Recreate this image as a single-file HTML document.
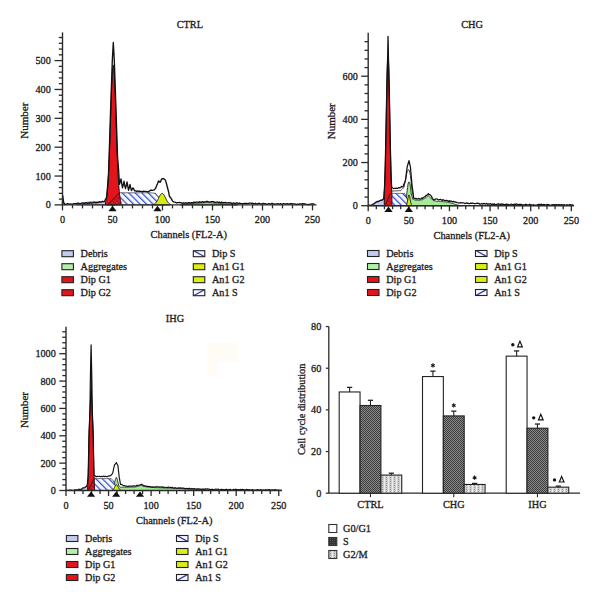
<!DOCTYPE html>
<html><head><meta charset="utf-8"><style>
html,body{margin:0;padding:0;background:#fff;width:600px;height:604px;overflow:hidden}
svg{display:block}
text{font-family:"Liberation Serif", serif}
</style></head><body>
<svg width="600" height="604" viewBox="0 0 600 604" font-family='"Liberation Serif", serif' fill="#1c1c1c">

<defs>
  <pattern id="hatchB" patternUnits="userSpaceOnUse" width="4.6" height="4.6" patternTransform="rotate(-45)">
    <rect width="4.6" height="4.6" fill="#f6f8ff"/><line x1="0.6" y1="0" x2="0.6" y2="4.6" stroke="#3650c8" stroke-width="1.3"/>
  </pattern>
  <pattern id="hatchR" patternUnits="userSpaceOnUse" width="3" height="3" patternTransform="rotate(-45)">
    <line x1="0.6" y1="0" x2="0.6" y2="3" stroke="#a01018" stroke-width="1.1"/>
  </pattern>
  <pattern id="lgB" patternUnits="userSpaceOnUse" width="20" height="20" patternTransform="rotate(-27)">
    <rect width="20" height="20" fill="#fff"/><line x1="0" y1="0" x2="0" y2="20" stroke="#3545b8" stroke-width="1.2"/>
  </pattern>
  <pattern id="lgF" patternUnits="userSpaceOnUse" width="20" height="20" patternTransform="rotate(27)">
    <rect width="20" height="20" fill="#fff"/><line x1="0" y1="0" x2="0" y2="20" stroke="#3545b8" stroke-width="1.2"/>
  </pattern>
  <pattern id="barS" patternUnits="userSpaceOnUse" width="2" height="2">
    <rect width="2" height="2" fill="#8a8a8a"/><rect width="1" height="1" fill="#3c3c3c"/><rect x="1" y="1" width="1" height="1" fill="#3c3c3c"/>
  </pattern>
  <pattern id="barSd" patternUnits="userSpaceOnUse" width="2" height="2">
    <rect width="2" height="2" fill="#333"/><rect width="1" height="1" fill="#555"/>
  </pattern>
  <pattern id="barG2" patternUnits="userSpaceOnUse" width="4" height="4">
    <rect width="4" height="4" fill="#cfcfcf"/><rect width="1" height="4" fill="#ececec"/><rect x="2" y="1" width="1" height="1" fill="#8a8a8a"/><rect x="2" y="3" width="1" height="1" fill="#a0a0a0"/>
  </pattern>
</defs>
<rect width="600" height="604" fill="#fff"/>
<path d="M76.5 204.9 L76.5 204.53 L77 204.47 L77.5 204.4 L78 204.32 L78.5 204.23 L79 204.13 L79.5 204.03 L80 203.92 L80.5 203.81 L81 203.69 L81.5 203.56 L82 203.44 L82.5 203.31 L83 203.19 L83.5 203.06 L84 202.94 L84.5 202.82 L85 202.7 L85.5 202.6 L86 202.49 L86.5 202.4 L87 202.31 L87.5 202.23 L88 202.16 L88.5 202.09 L89 202.03 L89.5 201.98 L90 201.94 L90.5 201.9 L91 201.87 L91.5 201.84 L92 201.82 L92.5 201.8 L93 201.78 L93.5 201.77 L94 201.76 L94.5 201.75 L95 201.75 L95.5 201.74 L96 201.74 L96.5 201.73 L97 201.73 L97.5 201.73 L98 201.73 L98.5 201.73 L99 201.73 L99.5 201.73 L100 201.73 L100.5 201.73 L101 201.73 L101.5 201.73 L102 201.73 L102.5 201.73 L103 201.73 L103.5 201.73 L104 201.73 L104.5 201.75 L105 201.76 L105.5 201.8 L106 201.85 L106.5 201.94 L107 202.06 L107.5 202.23 L108 202.44 L108.5 202.7 L109 203 L109.5 203.31 L110 203.63 L110.5 203.92 L111 204.18 L111.5 204.4 L112 204.56 L112.5 204.69 L113 204.77 L113.5 204.83 L114 204.86 L114.5 204.88 L114.5 204.9 Z" fill="#c3cbf0" stroke="#334" stroke-width="0.6"/>
<path d="M180.5 204.9 L180.5 204.9 L181 204.84 L181.5 204.78 L182 204.71 L182.5 204.65 L183 204.59 L183.5 204.53 L184 204.47 L184.5 204.41 L185 204.34 L185.5 204.28 L186 204.22 L186.5 204.16 L187 204.1 L187.5 204.03 L188 203.99 L188.5 203.95 L189 203.9 L189.5 203.86 L190 203.82 L190.5 203.77 L191 203.73 L191.5 203.69 L192 203.64 L192.5 203.6 L193 203.56 L193.5 203.51 L194 203.47 L194.5 203.43 L195 203.38 L195.5 203.34 L196 203.3 L196.5 203.25 L197 203.21 L197.5 203.17 L198 203.14 L198.5 203.11 L199 203.08 L199.5 203.05 L200 203.02 L200.5 203 L201 202.97 L201.5 202.94 L202 202.91 L202.5 202.88 L203 202.85 L203.5 202.82 L204 202.79 L204.5 202.76 L205 202.74 L205.5 202.71 L206 202.68 L206.5 202.65 L207 202.62 L207.5 202.59 L208 202.62 L208.5 202.65 L209 202.68 L209.5 202.71 L210 202.74 L210.5 202.76 L211 202.79 L211.5 202.82 L212 202.85 L212.5 202.88 L213 202.91 L213.5 202.94 L214 202.97 L214.5 203 L215 203.02 L215.5 203.05 L216 203.08 L216.5 203.11 L217 203.14 L217.5 203.17 L218 203.21 L218.5 203.25 L219 203.3 L219.5 203.34 L220 203.38 L220.5 203.43 L221 203.47 L221.5 203.51 L222 203.56 L222.5 203.6 L223 203.64 L223.5 203.69 L224 203.73 L224.5 203.77 L225 203.82 L225.5 203.86 L226 203.9 L226.5 203.95 L227 203.99 L227.5 204.03 L228 204.08 L228.5 204.12 L229 204.16 L229.5 204.21 L230 204.25 L230.5 204.29 L231 204.34 L231.5 204.38 L232 204.42 L232.5 204.47 L233 204.51 L233.5 204.55 L234 204.6 L234.5 204.64 L235 204.68 L235.5 204.73 L236 204.77 L236.5 204.81 L237 204.86 L237.5 204.9 L237.5 204.9 Z" fill="#a6ea98" stroke="#1a2a1a" stroke-width="0.9"/>
<path d="M107.5 204.9 L107.5 204.9 L108 204.39 L108.5 203.89 L109 203.38 L109.5 202.88 L110 202.37 L110.5 201.87 L111 201.36 L111.5 200.86 L112 200.35 L112.5 199.85 L113 199.34 L113.5 198.84 L114 198.33 L114.5 197.83 L115 197.32 L115.5 196.82 L116 196.31 L116.5 195.81 L117 195.3 L117.5 194.8 L118 194.29 L118.5 193.79 L119 193.28 L119.5 192.78 L120 192.78 L120.5 192.78 L121 192.78 L121.5 192.78 L122 192.78 L122.5 192.78 L123 192.78 L123.5 192.78 L124 192.78 L124.5 192.78 L125 192.78 L125.5 192.78 L126 192.78 L126.5 192.78 L127 192.78 L127.5 192.78 L128 192.78 L128.5 192.78 L129 192.78 L129.5 192.78 L130 192.78 L130.5 192.78 L131 192.78 L131.5 192.78 L132 192.78 L132.5 192.78 L133 192.78 L133.5 192.78 L134 192.78 L134.5 192.78 L135 192.78 L135.5 192.78 L136 192.78 L136.5 192.78 L137 192.78 L137.5 192.78 L138 192.78 L138.5 192.78 L139 192.78 L139.5 192.78 L140 192.78 L140.5 192.78 L141 192.78 L141.5 192.78 L142 192.78 L142.5 192.78 L143 192.78 L143.5 192.78 L144 192.78 L144.5 192.78 L145 192.78 L145.5 192.78 L146 192.78 L146.5 192.78 L147 192.78 L147.5 192.78 L148 192.78 L148.5 192.78 L149 192.78 L149.5 192.78 L150 192.78 L150.5 192.78 L151 192.84 L151.5 192.89 L152 192.95 L152.5 193.01 L153 193.07 L153.5 193.13 L154 193.18 L154.5 193.24 L155 193.3 L155.5 193.36 L156 193.93 L156.5 194.51 L157 195.09 L157.5 195.66 L158 196.24 L158.5 196.82 L159 197.4 L159.5 197.97 L160 198.55 L160.5 199.13 L161 199.71 L161.5 200.28 L162 200.86 L162.5 201.44 L163 201.87 L163.5 202.3 L164 202.74 L164.5 203.17 L165 203.6 L165.5 204.03 L166 204.47 L166.5 204.9 L166.5 204.9 Z" fill="url(#hatchB)" stroke="#223" stroke-width="0.7"/>
<path d="M153.5 204.9 L153.5 204.43 L154 204.22 L154.5 203.95 L155 203.6 L155.5 203.15 L156 202.59 L156.5 201.93 L157 201.15 L157.5 200.28 L158 199.32 L158.5 198.31 L159 197.28 L159.5 196.28 L160 195.36 L160.5 194.57 L161 193.94 L161.5 193.53 L162 193.36 L162.5 193.44 L163 193.75 L163.5 194.29 L164 195.02 L164.5 195.9 L165 196.88 L165.5 197.9 L166 198.92 L166.5 199.9 L167 200.81 L167.5 201.63 L168 202.34 L168.5 202.94 L169 203.43 L169.5 203.82 L170 204.12 L170.5 204.35 L170.5 204.9 Z" fill="#d4ec10" stroke="#1a1a1a" stroke-width="0.9"/>
<path d="M105.5 204.9 L105.5 202.39 L105.75 201.67 L106 200.77 L106.25 199.67 L106.5 198.32 L106.75 196.69 L107 194.75 L107.25 192.45 L107.5 189.76 L107.75 186.64 L108 183.05 L108.25 178.97 L108.5 174.39 L108.75 169.29 L109 163.68 L109.25 157.58 L109.5 151.02 L109.75 144.06 L110 136.77 L110.25 129.23 L110.5 121.55 L110.75 113.84 L111 106.24 L111.25 98.88 L111.5 91.92 L111.75 85.49 L112 79.73 L112.25 74.77 L112.5 70.73 L112.75 67.7 L113 65.76 L113.25 64.95 L113.5 65.3 L113.75 66.79 L114 69.39 L114.25 73.04 L114.5 77.64 L114.75 83.09 L115 89.27 L115.25 96.04 L115.5 103.26 L115.75 110.78 L116 118.46 L116.25 126.17 L116.5 133.78 L116.75 141.18 L117 148.28 L117.25 155.01 L117.5 161.3 L117.75 167.1 L118 172.41 L118.25 177.2 L118.5 181.48 L118.75 185.26 L119 188.56 L119.25 191.43 L119.5 193.88 L119.75 195.96 L120 197.7 L120.25 199.16 L120.5 200.36 L120.75 201.33 L121 202.12 L121 204.9 Z" fill="#e3141c" stroke="#111" stroke-width="1.0"/>
<clipPath id="clip1"><path d="M105.5 204.9 L105.5 202.39 L105.75 201.67 L106 200.77 L106.25 199.67 L106.5 198.32 L106.75 196.69 L107 194.75 L107.25 192.45 L107.5 189.76 L107.75 186.64 L108 183.05 L108.25 178.97 L108.5 174.39 L108.75 169.29 L109 163.68 L109.25 157.58 L109.5 151.02 L109.75 144.06 L110 136.77 L110.25 129.23 L110.5 121.55 L110.75 113.84 L111 106.24 L111.25 98.88 L111.5 91.92 L111.75 85.49 L112 79.73 L112.25 74.77 L112.5 70.73 L112.75 67.7 L113 65.76 L113.25 64.95 L113.5 65.3 L113.75 66.79 L114 69.39 L114.25 73.04 L114.5 77.64 L114.75 83.09 L115 89.27 L115.25 96.04 L115.5 103.26 L115.75 110.78 L116 118.46 L116.25 126.17 L116.5 133.78 L116.75 141.18 L117 148.28 L117.25 155.01 L117.5 161.3 L117.75 167.1 L118 172.41 L118.25 177.2 L118.5 181.48 L118.75 185.26 L119 188.56 L119.25 191.43 L119.5 193.88 L119.75 195.96 L120 197.7 L120.25 199.16 L120.5 200.36 L120.75 201.33 L121 202.12 L121 204.9 Z"/></clipPath>
<path d="M107.5 204.9 L107.5 204.9 L108 204.39 L108.5 203.89 L109 203.38 L109.5 202.88 L110 202.37 L110.5 201.87 L111 201.36 L111.5 200.86 L112 200.35 L112.5 199.85 L113 199.34 L113.5 198.84 L114 198.33 L114.5 197.83 L115 197.32 L115.5 196.82 L116 196.31 L116.5 195.81 L117 195.3 L117.5 194.8 L118 194.29 L118.5 193.79 L119 193.28 L119.5 192.78 L120 192.78 L120.5 192.78 L121 192.78 L121.5 192.78 L122 192.78 L122.5 192.78 L123 192.78 L123.5 192.78 L124 192.78 L124.5 192.78 L125 192.78 L125.5 192.78 L126 192.78 L126.5 192.78 L127 192.78 L127.5 192.78 L128 192.78 L128.5 192.78 L129 192.78 L129.5 192.78 L130 192.78 L130.5 192.78 L131 192.78 L131.5 192.78 L132 192.78 L132.5 192.78 L133 192.78 L133.5 192.78 L134 192.78 L134.5 192.78 L135 192.78 L135.5 192.78 L136 192.78 L136.5 192.78 L137 192.78 L137.5 192.78 L138 192.78 L138.5 192.78 L139 192.78 L139.5 192.78 L140 192.78 L140.5 192.78 L141 192.78 L141.5 192.78 L142 192.78 L142.5 192.78 L143 192.78 L143.5 192.78 L144 192.78 L144.5 192.78 L145 192.78 L145.5 192.78 L146 192.78 L146.5 192.78 L147 192.78 L147.5 192.78 L148 192.78 L148.5 192.78 L149 192.78 L149.5 192.78 L150 192.78 L150.5 192.78 L151 192.84 L151.5 192.89 L152 192.95 L152.5 193.01 L153 193.07 L153.5 193.13 L154 193.18 L154.5 193.24 L155 193.3 L155.5 193.36 L156 193.93 L156.5 194.51 L157 195.09 L157.5 195.66 L158 196.24 L158.5 196.82 L159 197.4 L159.5 197.97 L160 198.55 L160.5 199.13 L161 199.71 L161.5 200.28 L162 200.86 L162.5 201.44 L163 201.87 L163.5 202.3 L164 202.74 L164.5 203.17 L165 203.6 L165.5 204.03 L166 204.47 L166.5 204.9 L166.5 204.9 Z" fill="url(#hatchR)" stroke="#3a0a0a" stroke-width="1.0" clip-path="url(#clip1)"/>
<path d="M62.5 204.9 L62.7 195.56 L63.5 201.26 L63.7 202.88 L64.5 203.54 L65 204.7 L65.5 204.66 L66.5 204.03 L67.5 203.69 L68.5 203.91 L69.5 204.29 L70.5 203.87 L71.5 204.11 L72.5 204.18 L73.5 203.76 L74.5 203.65 L75.5 203.63 L76.5 203.63 L77.5 203.09 L78.5 203.2 L79.5 203.65 L80.5 203.63 L81.5 203.15 L82.5 203.04 L83.5 202.9 L84.5 203.75 L85.5 202.87 L86.5 202.76 L87.5 203.56 L88.5 202.82 L89.5 203.37 L90.5 202.47 L91.5 203.17 L92.5 203.09 L93.5 202.36 L94.5 202.49 L95.5 202.74 L96.5 202.71 L97.5 202.63 L98.5 202.46 L99.5 201.67 L100.5 202.19 L101.5 202.06 L102.5 201.25 L103.5 201.73 L104.5 201.41 L105.5 199.16 L106.5 197.87 L107.5 187.24 L108.5 174.01 L109.5 144.34 L110.5 112.55 L111.5 83.69 L112.3 60.6 L112.5 56.96 L113.3 42.42 L113.5 46.05 L114.3 60.6 L114.5 66.37 L115.5 95.23 L116 109.66 L116.5 125.05 L117.5 156.02 L118.5 168.74 L119.5 184.42 L120.5 181.06 L121 178.87 L121.5 181.9 L122.5 187.78 L123.5 183.99 L124 181.28 L124.5 184.03 L125.5 188.67 L126.5 184.63 L127 181.95 L127.5 184.71 L128.5 190.22 L129.5 186.87 L130 184.51 L130.5 187.06 L131.5 190.49 L132.5 188.71 L133 187.98 L133.5 188.52 L134.5 190.83 L135.5 190.87 L136.5 191.38 L137.5 190.97 L138.5 191.45 L139.5 191.08 L140.5 191.34 L141.5 191.42 L142.5 191.93 L143.5 191.13 L144.5 191.41 L145.5 191.34 L146.5 191.54 L147.5 191.79 L148.5 191.77 L149.5 190.92 L150.5 190.29 L151.5 190.17 L152.5 190.31 L153.5 190.08 L154.5 189.59 L155.5 188.36 L156.5 186.1 L157 184.86 L157.5 183.82 L158.5 180.95 L159.5 181.65 L160 182.31 L160.5 181.76 L161.5 179.19 L162.5 178.73 L163.5 178.55 L164.5 179.26 L165.5 180.34 L166.5 183.72 L167.5 187.75 L168.5 191.47 L169.5 196.63 L170.5 197.44 L171.5 199.13 L172.5 201.04 L173.5 201.88 L174.5 202.06 L175.5 202.29 L176.5 202.97 L177.5 202.57 L178.5 202.62 L179.5 202.5 L180.5 202.66 L181.5 202.9 L182.5 203.38 L183.5 202.78 L184.5 203.23 L185.5 202.89 L186.5 203.01 L187.5 203.27 L188.5 202.71 L189.5 202.6 L190.5 203.25 L191.5 202.71 L192.5 202.85 L193.5 202.3 L194.5 202.15 L195.5 202.34 L196.5 202.18 L197.5 202.17 L198.5 202.51 L199.5 201.74 L200.5 202.1 L201.5 202.24 L202.5 201.69 L203.5 202.34 L204.5 201.85 L205.5 201.85 L206.5 201.5 L207.5 201.45 L208.5 201.94 L209.5 202.17 L210.5 201.88 L211.5 201.64 L212.5 201.6 L213.5 201.66 L214.5 202.39 L215.5 202.38 L216.5 202.12 L217.5 201.99 L218.5 202.53 L219.5 202.1 L220.5 202.75 L221.5 202.1 L222.5 202.52 L223.5 202.62 L224.5 202.61 L225.5 202.33 L226.5 202.91 L227.5 202.82 L228.5 202.76 L229.5 202.96 L230.5 202.63 L231.5 203.32 L232.5 203.51 L233.5 202.9 L234.5 203.23 L235.5 203.51 L236.5 202.85 L237.5 203.01 L238.5 203.57 L239.5 203.13 L240.5 203.46 L241.5 203.71 L242.5 203.71 L243.5 203.61 L244.5 203.37 L245.5 203.53 L246.5 203.41 L247.5 203.73 L248.5 203.35 L249.5 203.17 L250.5 203.19 L251.5 203.31 L252.5 203.18 L253.5 203.74 L254.5 203.85 L255.5 203.25 L256.5 203.87 L257.5 203.87 L258.5 203.36 L259.5 203.42 L260.5 203.8 L261.5 204.17 L262.5 203.58 L263.5 203.32 L264.5 203.76 L265.5 203.78 L266.5 204.08 L267.5 204.16 L268.5 203.76 L269.5 203.76 L270.5 204.13 L271.5 203.53 L272.5 203.46 L273.5 204.27 L274.5 203.91 L275.5 204.05 L276.5 203.89 L277.5 203.82 L278.5 203.74 L279.5 204.23 L280.5 203.72 L281.5 204.24 L282.5 203.96 L283.5 203.62 L284.5 203.8 L285.5 203.88 L286.5 203.92 L287.5 203.58 L288.5 204.26 L289.5 203.82 L290.5 203.77 L291.5 203.7 L292.5 203.9 L293.5 203.84 L294.5 203.9 L295.5 204.26 L296.5 204.57 L297.5 204.01 L298.5 204.39 L299.5 204 L300.5 204.02 L301.5 204.15 L302.5 203.73 L303.5 204.01 L304.5 203.77 L305.5 204.12 L306.5 204.46 L307.5 204.66 L308.5 204.37 L309.5 204.5 L310.5 204.23 L311.5 203.86 L312.5 203.84 L313.5 204.03 L314.5 204.23" fill="none" stroke="#111" stroke-width="1.35" stroke-linejoin="round"/>
<line x1="62.5" y1="32.4" x2="62.5" y2="205.5" stroke="#2a2a2a" stroke-width="1.4"/>
<line x1="61.9" y1="204.9" x2="316.5" y2="204.9" stroke="#2a2a2a" stroke-width="1.4"/>
<line x1="54.5" y1="204.9" x2="62.5" y2="204.9" stroke="#2a2a2a" stroke-width="1.3"/>
<text transform="translate(50.8 208.4) scale(1 1.08)" text-anchor="end" font-size="10.2" stroke="#1c1c1c" stroke-width="0.3">0</text>
<line x1="58.8" y1="199.13" x2="62.5" y2="199.13" stroke="#2a2a2a" stroke-width="1.3"/>
<line x1="58.8" y1="193.36" x2="62.5" y2="193.36" stroke="#2a2a2a" stroke-width="1.3"/>
<line x1="58.8" y1="187.58" x2="62.5" y2="187.58" stroke="#2a2a2a" stroke-width="1.3"/>
<line x1="58.8" y1="181.81" x2="62.5" y2="181.81" stroke="#2a2a2a" stroke-width="1.3"/>
<line x1="54.5" y1="176.04" x2="62.5" y2="176.04" stroke="#2a2a2a" stroke-width="1.3"/>
<text transform="translate(50.8 179.54) scale(1 1.08)" text-anchor="end" font-size="10.2" stroke="#1c1c1c" stroke-width="0.3">100</text>
<line x1="58.8" y1="170.27" x2="62.5" y2="170.27" stroke="#2a2a2a" stroke-width="1.3"/>
<line x1="58.8" y1="164.5" x2="62.5" y2="164.5" stroke="#2a2a2a" stroke-width="1.3"/>
<line x1="58.8" y1="158.72" x2="62.5" y2="158.72" stroke="#2a2a2a" stroke-width="1.3"/>
<line x1="58.8" y1="152.95" x2="62.5" y2="152.95" stroke="#2a2a2a" stroke-width="1.3"/>
<line x1="54.5" y1="147.18" x2="62.5" y2="147.18" stroke="#2a2a2a" stroke-width="1.3"/>
<text transform="translate(50.8 150.68) scale(1 1.08)" text-anchor="end" font-size="10.2" stroke="#1c1c1c" stroke-width="0.3">200</text>
<line x1="58.8" y1="141.41" x2="62.5" y2="141.41" stroke="#2a2a2a" stroke-width="1.3"/>
<line x1="58.8" y1="135.64" x2="62.5" y2="135.64" stroke="#2a2a2a" stroke-width="1.3"/>
<line x1="58.8" y1="129.86" x2="62.5" y2="129.86" stroke="#2a2a2a" stroke-width="1.3"/>
<line x1="58.8" y1="124.09" x2="62.5" y2="124.09" stroke="#2a2a2a" stroke-width="1.3"/>
<line x1="54.5" y1="118.32" x2="62.5" y2="118.32" stroke="#2a2a2a" stroke-width="1.3"/>
<text transform="translate(50.8 121.82) scale(1 1.08)" text-anchor="end" font-size="10.2" stroke="#1c1c1c" stroke-width="0.3">300</text>
<line x1="58.8" y1="112.55" x2="62.5" y2="112.55" stroke="#2a2a2a" stroke-width="1.3"/>
<line x1="58.8" y1="106.78" x2="62.5" y2="106.78" stroke="#2a2a2a" stroke-width="1.3"/>
<line x1="58.8" y1="101" x2="62.5" y2="101" stroke="#2a2a2a" stroke-width="1.3"/>
<line x1="58.8" y1="95.23" x2="62.5" y2="95.23" stroke="#2a2a2a" stroke-width="1.3"/>
<line x1="54.5" y1="89.46" x2="62.5" y2="89.46" stroke="#2a2a2a" stroke-width="1.3"/>
<text transform="translate(50.8 92.96) scale(1 1.08)" text-anchor="end" font-size="10.2" stroke="#1c1c1c" stroke-width="0.3">400</text>
<line x1="58.8" y1="83.69" x2="62.5" y2="83.69" stroke="#2a2a2a" stroke-width="1.3"/>
<line x1="58.8" y1="77.92" x2="62.5" y2="77.92" stroke="#2a2a2a" stroke-width="1.3"/>
<line x1="58.8" y1="72.14" x2="62.5" y2="72.14" stroke="#2a2a2a" stroke-width="1.3"/>
<line x1="58.8" y1="66.37" x2="62.5" y2="66.37" stroke="#2a2a2a" stroke-width="1.3"/>
<line x1="54.5" y1="60.6" x2="62.5" y2="60.6" stroke="#2a2a2a" stroke-width="1.3"/>
<text transform="translate(50.8 64.1) scale(1 1.08)" text-anchor="end" font-size="10.2" stroke="#1c1c1c" stroke-width="0.3">500</text>
<line x1="58.8" y1="54.83" x2="62.5" y2="54.83" stroke="#2a2a2a" stroke-width="1.3"/>
<line x1="58.8" y1="49.06" x2="62.5" y2="49.06" stroke="#2a2a2a" stroke-width="1.3"/>
<line x1="58.8" y1="43.28" x2="62.5" y2="43.28" stroke="#2a2a2a" stroke-width="1.3"/>
<line x1="58.8" y1="37.51" x2="62.5" y2="37.51" stroke="#2a2a2a" stroke-width="1.3"/>
<line x1="62.5" y1="204.9" x2="62.5" y2="210.4" stroke="#2a2a2a" stroke-width="1.3"/>
<text transform="translate(62.5 223.1) scale(1 1.08)" text-anchor="middle" font-size="10.2" stroke="#1c1c1c" stroke-width="0.3">0</text>
<line x1="72.5" y1="204.9" x2="72.5" y2="208.4" stroke="#2a2a2a" stroke-width="1.3"/>
<line x1="82.5" y1="204.9" x2="82.5" y2="208.4" stroke="#2a2a2a" stroke-width="1.3"/>
<line x1="92.5" y1="204.9" x2="92.5" y2="208.4" stroke="#2a2a2a" stroke-width="1.3"/>
<line x1="102.5" y1="204.9" x2="102.5" y2="208.4" stroke="#2a2a2a" stroke-width="1.3"/>
<line x1="112.5" y1="204.9" x2="112.5" y2="210.4" stroke="#2a2a2a" stroke-width="1.3"/>
<text transform="translate(112.5 223.1) scale(1 1.08)" text-anchor="middle" font-size="10.2" stroke="#1c1c1c" stroke-width="0.3">50</text>
<line x1="122.5" y1="204.9" x2="122.5" y2="208.4" stroke="#2a2a2a" stroke-width="1.3"/>
<line x1="132.5" y1="204.9" x2="132.5" y2="208.4" stroke="#2a2a2a" stroke-width="1.3"/>
<line x1="142.5" y1="204.9" x2="142.5" y2="208.4" stroke="#2a2a2a" stroke-width="1.3"/>
<line x1="152.5" y1="204.9" x2="152.5" y2="208.4" stroke="#2a2a2a" stroke-width="1.3"/>
<line x1="162.5" y1="204.9" x2="162.5" y2="210.4" stroke="#2a2a2a" stroke-width="1.3"/>
<text transform="translate(162.5 223.1) scale(1 1.08)" text-anchor="middle" font-size="10.2" stroke="#1c1c1c" stroke-width="0.3">100</text>
<line x1="172.5" y1="204.9" x2="172.5" y2="208.4" stroke="#2a2a2a" stroke-width="1.3"/>
<line x1="182.5" y1="204.9" x2="182.5" y2="208.4" stroke="#2a2a2a" stroke-width="1.3"/>
<line x1="192.5" y1="204.9" x2="192.5" y2="208.4" stroke="#2a2a2a" stroke-width="1.3"/>
<line x1="202.5" y1="204.9" x2="202.5" y2="208.4" stroke="#2a2a2a" stroke-width="1.3"/>
<line x1="212.5" y1="204.9" x2="212.5" y2="210.4" stroke="#2a2a2a" stroke-width="1.3"/>
<text transform="translate(212.5 223.1) scale(1 1.08)" text-anchor="middle" font-size="10.2" stroke="#1c1c1c" stroke-width="0.3">150</text>
<line x1="222.5" y1="204.9" x2="222.5" y2="208.4" stroke="#2a2a2a" stroke-width="1.3"/>
<line x1="232.5" y1="204.9" x2="232.5" y2="208.4" stroke="#2a2a2a" stroke-width="1.3"/>
<line x1="242.5" y1="204.9" x2="242.5" y2="208.4" stroke="#2a2a2a" stroke-width="1.3"/>
<line x1="252.5" y1="204.9" x2="252.5" y2="208.4" stroke="#2a2a2a" stroke-width="1.3"/>
<line x1="262.5" y1="204.9" x2="262.5" y2="210.4" stroke="#2a2a2a" stroke-width="1.3"/>
<text transform="translate(262.5 223.1) scale(1 1.08)" text-anchor="middle" font-size="10.2" stroke="#1c1c1c" stroke-width="0.3">200</text>
<line x1="272.5" y1="204.9" x2="272.5" y2="208.4" stroke="#2a2a2a" stroke-width="1.3"/>
<line x1="282.5" y1="204.9" x2="282.5" y2="208.4" stroke="#2a2a2a" stroke-width="1.3"/>
<line x1="292.5" y1="204.9" x2="292.5" y2="208.4" stroke="#2a2a2a" stroke-width="1.3"/>
<line x1="302.5" y1="204.9" x2="302.5" y2="208.4" stroke="#2a2a2a" stroke-width="1.3"/>
<line x1="312.5" y1="204.9" x2="312.5" y2="210.4" stroke="#2a2a2a" stroke-width="1.3"/>
<text transform="translate(312.5 223.1) scale(1 1.08)" text-anchor="middle" font-size="10.2" stroke="#1c1c1c" stroke-width="0.3">250</text>
<text transform="translate(189.8 27.6) scale(1 1.08)" text-anchor="middle" font-size="10.3" stroke="#1c1c1c" stroke-width="0.3">CTRL</text>
<text transform="translate(188.8 238.2) scale(1 1.08)" text-anchor="middle" font-size="10.4" stroke="#1c1c1c" stroke-width="0.3">Channels (FL2-A)</text>
<text transform="translate(28.2 120.7) rotate(-90)" text-anchor="middle" font-size="11" stroke="#1c1c1c" stroke-width="0.3">Number</text>
<path d="M108.4 211.2 L112.5 205.8 L116.6 211.2 Z" fill="#111"/>
<path d="M153.4 211.2 L157.5 205.8 L161.6 211.2 Z" fill="#111"/>
<path d="M370.64 205.7 L370.64 205.7 L371.04 205.56 L371.45 205.41 L371.86 205.27 L372.26 205.12 L372.67 204.98 L373.07 204.84 L373.48 204.55 L373.89 204.26 L374.29 203.97 L374.7 203.69 L375.11 203.4 L375.51 203.11 L375.92 202.84 L376.32 202.57 L376.73 202.3 L377.14 202.03 L377.54 201.76 L377.95 201.49 L378.36 201.22 L378.76 200.95 L379.17 200.82 L379.57 200.68 L379.98 200.55 L380.39 200.41 L380.79 200.28 L381.2 200.14 L381.61 200.01 L382.01 199.87 L382.42 199.69 L382.82 199.51 L383.23 199.33 L383.64 199.15 L384.04 198.97 L384.45 198.79 L384.86 198.87 L385.26 198.94 L385.67 199.01 L386.07 199.08 L386.48 199.15 L386.89 199.23 L387.29 200.84 L387.7 202.46 L388.11 204.08 L388.51 205.7 L388.51 205.7 Z" fill="#c3cbf0" stroke="#334" stroke-width="0.6"/>
<path d="M403.14 205.7 L403.14 205.7 L403.54 205.16 L403.95 204.62 L404.36 204.08 L404.76 203.54 L405.17 201.92 L405.57 200.3 L405.98 198.69 L406.39 197.07 L406.79 193.83 L407.2 190.59 L407.61 187.36 L408.01 184.12 L408.42 183.04 L408.82 181.96 L409.23 182.13 L409.64 183.12 L410.04 184.12 L410.45 187.36 L410.86 190.59 L411.26 193.83 L411.67 195.18 L412.07 196.53 L412.48 197.88 L412.89 199.23 L413.29 199.37 L413.7 199.51 L414.11 199.66 L414.51 199.8 L414.92 199.95 L415.32 200.09 L415.73 200.11 L416.14 200.13 L416.54 200.15 L416.95 200.18 L417.36 200.2 L417.76 200.22 L418.17 200.24 L418.57 200.26 L418.98 200.28 L419.39 200.3 L419.79 200.22 L420.2 200.14 L420.61 200.06 L421.01 199.98 L421.42 199.9 L421.82 199.82 L422.23 199.74 L422.64 199.66 L423.04 199.39 L423.45 199.12 L423.86 198.85 L424.26 198.58 L424.67 198.31 L425.07 198.04 L425.48 197.77 L425.89 197.5 L426.29 197.21 L426.7 196.92 L427.11 196.64 L427.51 196.35 L427.92 196.06 L428.32 195.77 L428.73 196.13 L429.14 196.49 L429.54 196.85 L429.95 197.21 L430.36 197.57 L430.76 197.93 L431.17 198.36 L431.57 198.79 L431.98 199.23 L432.39 199.66 L432.79 200.09 L433.2 200.52 L433.61 200.61 L434.01 200.69 L434.42 200.78 L434.82 200.87 L435.23 200.95 L435.64 201.04 L436.04 201.13 L436.45 201.21 L436.86 201.3 L437.26 201.38 L437.67 201.41 L438.07 201.43 L438.48 201.45 L438.89 201.47 L439.29 201.49 L439.7 201.51 L440.11 201.54 L440.51 201.56 L440.92 201.58 L441.32 201.6 L441.73 201.62 L442.14 201.64 L442.54 201.66 L442.95 201.69 L443.36 201.71 L443.76 201.73 L444.17 201.75 L444.57 201.77 L444.98 201.79 L445.39 201.82 L445.79 201.9 L446.2 201.99 L446.61 202.07 L447.01 202.16 L447.42 202.25 L447.82 202.33 L448.23 202.42 L448.64 202.51 L449.04 202.59 L449.45 202.68 L449.86 202.79 L450.26 202.89 L450.67 203 L451.07 203.11 L451.48 203.22 L451.89 203.33 L452.29 203.43 L452.7 203.54 L453.11 203.65 L453.51 203.76 L453.92 203.87 L454.32 203.97 L454.73 204.11 L455.14 204.24 L455.54 204.38 L455.95 204.51 L456.36 204.65 L456.76 204.78 L457.17 204.92 L457.57 205.05 L457.98 205.12 L458.39 205.18 L458.79 205.25 L459.2 205.31 L459.61 205.38 L460.01 205.44 L460.42 205.51 L460.82 205.57 L461.23 205.64 L461.64 205.7 L461.64 205.7 Z" fill="#a6ea98" stroke="#1a2a1a" stroke-width="0.9"/>
<path d="M385.26 205.7 L385.26 205.7 L385.67 204.67 L386.07 203.65 L386.48 202.62 L386.89 201.6 L387.29 200.57 L387.7 199.55 L388.11 198.52 L388.51 197.5 L388.92 196.47 L389.32 195.45 L389.73 194.42 L390.14 193.4 L390.54 193.4 L390.95 193.4 L391.36 193.4 L391.76 193.4 L392.17 193.4 L392.57 193.4 L392.98 193.4 L393.39 193.4 L393.79 193.4 L394.2 193.4 L394.61 193.4 L395.01 193.4 L395.42 193.4 L395.82 193.4 L396.23 193.4 L396.64 193.4 L397.04 193.4 L397.45 193.4 L397.86 193.4 L398.26 193.4 L398.67 193.4 L399.07 193.4 L399.48 193.4 L399.89 193.4 L400.29 193.4 L400.7 193.4 L401.11 193.4 L401.51 193.4 L401.92 193.4 L402.32 193.4 L402.73 193.4 L403.14 193.4 L403.54 193.4 L403.95 193.4 L404.36 193.4 L404.76 193.4 L405.17 194.37 L405.57 195.34 L405.98 196.31 L406.39 197.28 L406.79 198.25 L407.2 199.23 L407.61 200.84 L408.01 202.46 L408.42 204.08 L408.82 205.7 L408.82 205.7 Z" fill="url(#hatchB)" stroke="#223" stroke-width="0.7"/>
<path d="M406.79 205.7 L406.79 204.02 L407.2 202.56 L407.61 200.54 L408.01 198.23 L408.42 196.18 L408.82 195.02 L409.23 195.15 L409.64 196.54 L410.04 198.69 L410.45 200.98 L410.86 202.9 L411.26 204.24 L411.26 205.7 Z" fill="#d4ec10" stroke="#1a1a1a" stroke-width="0.9"/>
<path d="M386.48 205.7 L386.48 104.83 L386.56 100.51 L386.64 96.25 L386.72 92.08 L386.81 88.02 L386.89 84.08 L386.97 80.3 L387.05 76.7 L387.13 73.29 L387.21 70.1 L387.29 67.15 L387.38 64.45 L387.46 62.03 L387.54 59.89 L387.62 58.06 L387.7 55.72 L387.78 50.86 L387.86 46.01 L387.94 41.15 L388.03 36.3 L388.11 41.15 L388.19 46.01 L388.27 50.86 L388.35 55.72 L388.43 58.06 L388.51 59.89 L388.59 62.03 L388.68 64.45 L388.76 67.15 L388.84 70.1 L388.92 73.29 L389 76.7 L389.08 80.3 L389.16 84.08 L389.24 88.02 L389.33 92.08 L389.41 96.25 L389.49 100.51 L389.57 104.83 L389.57 205.7 Z" fill="#141414"/>
<path d="M384.29 205.7 L384.29 192.18 L384.49 188.28 L384.69 183.56 L384.9 177.96 L385.1 171.44 L385.3 163.98 L385.51 155.62 L385.71 146.41 L385.91 136.51 L386.12 126.09 L386.32 115.39 L386.52 104.69 L386.72 94.31 L386.93 84.6 L387.13 75.89 L387.33 68.51 L387.54 62.75 L387.74 58.85 L387.94 56.97 L388.15 57.18 L388.35 59.47 L388.55 63.76 L388.76 69.86 L388.96 77.53 L389.16 86.47 L389.37 96.34 L389.57 106.81 L389.77 117.54 L389.97 128.2 L390.18 138.54 L390.38 148.32 L390.58 157.36 L390.79 165.55 L390.99 172.82 L391.19 179.16 L391.4 184.57 L391.6 189.12 L391.8 192.87 L391.93 205.7 Z" fill="#e3141c" stroke="#111" stroke-width="1.0"/>
<clipPath id="clip2"><path d="M384.29 205.7 L384.29 192.18 L384.49 188.28 L384.69 183.56 L384.9 177.96 L385.1 171.44 L385.3 163.98 L385.51 155.62 L385.71 146.41 L385.91 136.51 L386.12 126.09 L386.32 115.39 L386.52 104.69 L386.72 94.31 L386.93 84.6 L387.13 75.89 L387.33 68.51 L387.54 62.75 L387.74 58.85 L387.94 56.97 L388.15 57.18 L388.35 59.47 L388.55 63.76 L388.76 69.86 L388.96 77.53 L389.16 86.47 L389.37 96.34 L389.57 106.81 L389.77 117.54 L389.97 128.2 L390.18 138.54 L390.38 148.32 L390.58 157.36 L390.79 165.55 L390.99 172.82 L391.19 179.16 L391.4 184.57 L391.6 189.12 L391.8 192.87 L391.93 205.7 Z"/></clipPath>
<path d="M385.26 205.7 L385.26 205.7 L385.67 204.67 L386.07 203.65 L386.48 202.62 L386.89 201.6 L387.29 200.57 L387.7 199.55 L388.11 198.52 L388.51 197.5 L388.92 196.47 L389.32 195.45 L389.73 194.42 L390.14 193.4 L390.54 193.4 L390.95 193.4 L391.36 193.4 L391.76 193.4 L392.17 193.4 L392.57 193.4 L392.98 193.4 L393.39 193.4 L393.79 193.4 L394.2 193.4 L394.61 193.4 L395.01 193.4 L395.42 193.4 L395.82 193.4 L396.23 193.4 L396.64 193.4 L397.04 193.4 L397.45 193.4 L397.86 193.4 L398.26 193.4 L398.67 193.4 L399.07 193.4 L399.48 193.4 L399.89 193.4 L400.29 193.4 L400.7 193.4 L401.11 193.4 L401.51 193.4 L401.92 193.4 L402.32 193.4 L402.73 193.4 L403.14 193.4 L403.54 193.4 L403.95 193.4 L404.36 193.4 L404.76 193.4 L405.17 194.37 L405.57 195.34 L405.98 196.31 L406.39 197.28 L406.79 198.25 L407.2 199.23 L407.61 200.84 L408.01 202.46 L408.42 204.08 L408.82 205.7 L408.82 205.7 Z" fill="url(#hatchR)" stroke="#3a0a0a" stroke-width="1.0" clip-path="url(#clip2)"/>
<path d="M390.14 190.59 L390.54 190.67 L390.95 190.74 L391.36 190.81 L391.76 190.88 L392.17 190.95 L392.57 191.03 L392.98 191 L393.39 190.98 L393.79 190.96 L394.2 190.94 L394.61 190.92 L395.01 190.9 L395.42 190.87 L395.82 190.85 L396.23 190.83 L396.64 190.81 L397.04 190.79 L397.45 190.77 L397.86 190.75 L398.26 190.72 L398.67 190.7 L399.07 190.68 L399.48 190.66 L399.89 190.64 L400.29 190.62 L400.7 190.59 L401.11 190.19 L401.51 189.78 L401.92 189.38 L402.32 188.98 L402.73 188.57 L403.14 188.17 L403.54 187.76 L403.95 187.36 L404.36 185.33 L404.76 183.31 L405.17 181.29 L405.57 179.26 L405.98 177.24 L406.39 175.22 L406.79 173.2 L407.2 171.17 L407.61 170.78 L408.01 170.39 L408.42 169.99 L408.82 169.6 L409.23 170.45 L409.64 172.13 L410.04 173.81 L410.45 175.49 L410.86 179.26 L411.26 183.04 L411.67 186.82 L412.07 190.59 L412.48 192.54 L412.89 194.48 L413.29 196.42 L413.7 198.36" fill="none" stroke="#222" stroke-width="0.9"/>
<path d="M368.2 205.7 L369.01 205.25 L369.82 205.09 L370.64 205.31 L371.45 204.99 L372.26 204.61 L373.07 203.88 L373.89 203.86 L374.7 202.97 L375.51 202.6 L376.32 201.73 L377.14 201.43 L377.95 201.77 L378.76 201.16 L379.57 201.04 L380.39 200.28 L381.2 200.12 L382.01 200.39 L382.82 199.46 L383.64 198.82 L384.45 188.84 L384.86 178.31 L385.26 164.91 L386.07 126.65 L386.32 113.58 L386.89 84.08 L387.21 70.1 L387.7 55.72 L388.02 36.3 L388.51 59.89 L388.84 70.1 L389.32 92.08 L389.65 109.2 L390.14 135.13 L390.54 154.62 L390.95 171.18 L391.36 182.96 L391.76 187.14 L392.57 187.87 L393.39 188.52 L394.2 188.36 L395.01 188.48 L395.82 188.4 L396.64 188.12 L397.45 188.46 L398.26 187.95 L399.07 187.66 L399.89 187.9 L400.7 187.47 L401.51 186.47 L402.32 186.97 L403.14 186.57 L403.95 184.02 L404.76 182.5 L405.57 179.95 L406.39 172.84 L407.2 166.84 L408.01 164 L408.82 161.17 L408.99 160.64 L409.64 163.56 L410.45 167.16 L411.26 176.5 L412.07 185.51 L412.89 191.52 L413.7 198.04 L414.51 198.25 L415.32 198.66 L416.14 198.35 L416.95 199.06 L417.76 198.94 L418.57 198.42 L419.39 198.83 L420.2 199.24 L421.01 198.96 L421.82 198.01 L422.64 198.45 L423.45 197.47 L424.26 197.02 L425.07 196.61 L425.89 195.49 L426.7 195.38 L427.51 194.73 L428.32 193.58 L429.14 194.52 L429.95 194.72 L430.76 195.39 L431.57 196.58 L432.39 198.37 L433.2 199.38 L434.01 199.79 L434.82 199.59 L435.64 198.9 L436.45 198.97 L437.26 199 L438.07 199.85 L438.89 199.93 L439.7 199.52 L440.51 199.41 L441.32 199.74 L442.14 200.48 L442.95 199.71 L443.76 200 L444.57 200.74 L445.39 200.7 L446.2 200.14 L447.01 200.87 L447.82 200.65 L448.64 201.42 L449.45 200.7 L450.26 201.64 L451.07 200.87 L451.89 201.68 L452.7 202.05 L453.51 201.28 L454.32 201.89 L455.14 202.13 L455.95 201.84 L456.76 202.6 L457.57 202.74 L458.39 202.78 L459.2 202.98 L460.01 202.79 L460.82 202.6 L461.64 202.84 L462.45 202.81 L463.26 202.84 L464.07 202.99 L464.89 203.52 L465.7 203.39 L466.51 202.85 L467.32 203.34 L468.14 203.15 L468.95 203.69 L469.76 203.6 L470.57 203.06 L471.39 203.31 L472.2 202.96 L473.01 203.31 L473.82 203.44 L474.64 203.53 L475.45 203.53 L476.26 203.32 L477.07 203.08 L477.89 203.52 L478.7 203.24 L479.51 204.05 L480.32 204.12 L481.14 204.15 L481.95 203.41 L482.76 204.11 L483.57 203.59 L484.39 203.38 L485.2 204.12 L486.01 203.95 L486.82 203.34 L487.64 204.26 L488.45 203.9 L489.26 204.28 L490.07 203.73 L490.89 203.93 L491.7 204.52 L492.51 203.88 L493.32 204.5 L494.14 203.73 L494.95 204.48 L495.76 204.56 L496.57 204.32 L497.39 204.17 L498.2 203.76 L499.01 204.49 L499.82 204.05 L500.64 204.58 L501.45 203.95 L502.26 204.63 L503.07 204.04 L503.89 204.64 L504.7 204.67 L505.51 204.27 L506.32 204.18 L507.14 204.5 L507.95 204.23 L508.76 204.69 L509.57 204.77 L510.39 204.5 L511.2 204.03 L512.01 204.32 L512.83 204.5 L513.64 204.62 L514.45 204.11 L515.26 204.71 L516.08 203.92 L516.89 204.06 L517.7 204.42 L518.51 204.54 L519.33 204.24 L520.14 204.62 L520.95 204.24 L521.76 204.58 L522.58 204.97 L523.39 204.97 L524.2 204.78 L525.01 204.98 L525.83 204.14 L526.64 204.79 L527.45 204.79 L528.26 204.95 L529.08 204.85 L529.89 204.1 L530.7 204.9 L531.51 204.83 L532.33 205.18 L533.14 204.67 L533.95 204.98 L534.76 205.2 L535.58 205.11 L536.39 205.17 L537.2 204.9 L538.01 204.6 L538.83 204.43 L539.64 204.48 L540.45 204.84 L541.26 204.21 L542.08 204.5 L542.89 205.24 L543.7 204.33 L544.51 204.51 L545.33 205.16 L546.14 204.77 L546.95 204.46 L547.76 204.7 L548.58 204.61 L549.39 205.1 L550.2 205.22 L551.01 205.25 L551.83 204.77 L552.64 204.71 L553.45 204.86 L554.26 204.54 L555.08 204.87 L555.89 204.71 L556.7 204.63 L557.51 205.35 L558.33 204.66 L559.14 204.65 L559.95 204.93 L560.76 204.95 L561.58 204.65 L562.39 204.79 L563.2 205.33 L564.01 204.7 L564.83 204.9 L565.64 205.45 L566.45 204.8 L567.26 204.8 L568.08 204.98 L568.89 205.05 L569.7 204.59 L570.51 204.51 L571.33 205.56 L572.14 204.7 L572.95 205.11 L573.76 205.37" fill="none" stroke="#111" stroke-width="1.25" stroke-linejoin="round"/>
<line x1="368.2" y1="32.7" x2="368.2" y2="206.3" stroke="#2a2a2a" stroke-width="1.4"/>
<line x1="367.6" y1="205.7" x2="574" y2="205.7" stroke="#2a2a2a" stroke-width="1.4"/>
<line x1="361.2" y1="205.7" x2="368.2" y2="205.7" stroke="#2a2a2a" stroke-width="1.3"/>
<text transform="translate(357.9 209.2) scale(1 1.08)" text-anchor="end" font-size="10.2" stroke="#1c1c1c" stroke-width="0.3">0</text>
<line x1="364.5" y1="197.07" x2="368.2" y2="197.07" stroke="#2a2a2a" stroke-width="1.3"/>
<line x1="364.5" y1="188.44" x2="368.2" y2="188.44" stroke="#2a2a2a" stroke-width="1.3"/>
<line x1="364.5" y1="179.8" x2="368.2" y2="179.8" stroke="#2a2a2a" stroke-width="1.3"/>
<line x1="364.5" y1="171.17" x2="368.2" y2="171.17" stroke="#2a2a2a" stroke-width="1.3"/>
<line x1="361.2" y1="162.54" x2="368.2" y2="162.54" stroke="#2a2a2a" stroke-width="1.3"/>
<text transform="translate(357.9 166.04) scale(1 1.08)" text-anchor="end" font-size="10.2" stroke="#1c1c1c" stroke-width="0.3">200</text>
<line x1="364.5" y1="153.91" x2="368.2" y2="153.91" stroke="#2a2a2a" stroke-width="1.3"/>
<line x1="364.5" y1="145.28" x2="368.2" y2="145.28" stroke="#2a2a2a" stroke-width="1.3"/>
<line x1="364.5" y1="136.64" x2="368.2" y2="136.64" stroke="#2a2a2a" stroke-width="1.3"/>
<line x1="364.5" y1="128.01" x2="368.2" y2="128.01" stroke="#2a2a2a" stroke-width="1.3"/>
<line x1="361.2" y1="119.38" x2="368.2" y2="119.38" stroke="#2a2a2a" stroke-width="1.3"/>
<text transform="translate(357.9 122.88) scale(1 1.08)" text-anchor="end" font-size="10.2" stroke="#1c1c1c" stroke-width="0.3">400</text>
<line x1="364.5" y1="110.75" x2="368.2" y2="110.75" stroke="#2a2a2a" stroke-width="1.3"/>
<line x1="364.5" y1="102.12" x2="368.2" y2="102.12" stroke="#2a2a2a" stroke-width="1.3"/>
<line x1="364.5" y1="93.48" x2="368.2" y2="93.48" stroke="#2a2a2a" stroke-width="1.3"/>
<line x1="364.5" y1="84.85" x2="368.2" y2="84.85" stroke="#2a2a2a" stroke-width="1.3"/>
<line x1="361.2" y1="76.22" x2="368.2" y2="76.22" stroke="#2a2a2a" stroke-width="1.3"/>
<text transform="translate(357.9 79.72) scale(1 1.08)" text-anchor="end" font-size="10.2" stroke="#1c1c1c" stroke-width="0.3">600</text>
<line x1="364.5" y1="67.59" x2="368.2" y2="67.59" stroke="#2a2a2a" stroke-width="1.3"/>
<line x1="364.5" y1="58.96" x2="368.2" y2="58.96" stroke="#2a2a2a" stroke-width="1.3"/>
<line x1="364.5" y1="50.32" x2="368.2" y2="50.32" stroke="#2a2a2a" stroke-width="1.3"/>
<line x1="364.5" y1="41.69" x2="368.2" y2="41.69" stroke="#2a2a2a" stroke-width="1.3"/>
<line x1="368.2" y1="205.7" x2="368.2" y2="211.2" stroke="#2a2a2a" stroke-width="1.3"/>
<text transform="translate(368.2 223.9) scale(1 1.08)" text-anchor="middle" font-size="10.2" stroke="#1c1c1c" stroke-width="0.3">0</text>
<line x1="376.32" y1="205.7" x2="376.32" y2="209.2" stroke="#2a2a2a" stroke-width="1.3"/>
<line x1="384.45" y1="205.7" x2="384.45" y2="209.2" stroke="#2a2a2a" stroke-width="1.3"/>
<line x1="392.57" y1="205.7" x2="392.57" y2="209.2" stroke="#2a2a2a" stroke-width="1.3"/>
<line x1="400.7" y1="205.7" x2="400.7" y2="209.2" stroke="#2a2a2a" stroke-width="1.3"/>
<line x1="408.82" y1="205.7" x2="408.82" y2="211.2" stroke="#2a2a2a" stroke-width="1.3"/>
<text transform="translate(408.82 223.9) scale(1 1.08)" text-anchor="middle" font-size="10.2" stroke="#1c1c1c" stroke-width="0.3">50</text>
<line x1="416.95" y1="205.7" x2="416.95" y2="209.2" stroke="#2a2a2a" stroke-width="1.3"/>
<line x1="425.07" y1="205.7" x2="425.07" y2="209.2" stroke="#2a2a2a" stroke-width="1.3"/>
<line x1="433.2" y1="205.7" x2="433.2" y2="209.2" stroke="#2a2a2a" stroke-width="1.3"/>
<line x1="441.32" y1="205.7" x2="441.32" y2="209.2" stroke="#2a2a2a" stroke-width="1.3"/>
<line x1="449.45" y1="205.7" x2="449.45" y2="211.2" stroke="#2a2a2a" stroke-width="1.3"/>
<text transform="translate(449.45 223.9) scale(1 1.08)" text-anchor="middle" font-size="10.2" stroke="#1c1c1c" stroke-width="0.3">100</text>
<line x1="457.57" y1="205.7" x2="457.57" y2="209.2" stroke="#2a2a2a" stroke-width="1.3"/>
<line x1="465.7" y1="205.7" x2="465.7" y2="209.2" stroke="#2a2a2a" stroke-width="1.3"/>
<line x1="473.82" y1="205.7" x2="473.82" y2="209.2" stroke="#2a2a2a" stroke-width="1.3"/>
<line x1="481.95" y1="205.7" x2="481.95" y2="209.2" stroke="#2a2a2a" stroke-width="1.3"/>
<line x1="490.07" y1="205.7" x2="490.07" y2="211.2" stroke="#2a2a2a" stroke-width="1.3"/>
<text transform="translate(490.07 223.9) scale(1 1.08)" text-anchor="middle" font-size="10.2" stroke="#1c1c1c" stroke-width="0.3">150</text>
<line x1="498.2" y1="205.7" x2="498.2" y2="209.2" stroke="#2a2a2a" stroke-width="1.3"/>
<line x1="506.32" y1="205.7" x2="506.32" y2="209.2" stroke="#2a2a2a" stroke-width="1.3"/>
<line x1="514.45" y1="205.7" x2="514.45" y2="209.2" stroke="#2a2a2a" stroke-width="1.3"/>
<line x1="522.58" y1="205.7" x2="522.58" y2="209.2" stroke="#2a2a2a" stroke-width="1.3"/>
<line x1="530.7" y1="205.7" x2="530.7" y2="211.2" stroke="#2a2a2a" stroke-width="1.3"/>
<text transform="translate(530.7 223.9) scale(1 1.08)" text-anchor="middle" font-size="10.2" stroke="#1c1c1c" stroke-width="0.3">200</text>
<line x1="538.83" y1="205.7" x2="538.83" y2="209.2" stroke="#2a2a2a" stroke-width="1.3"/>
<line x1="546.95" y1="205.7" x2="546.95" y2="209.2" stroke="#2a2a2a" stroke-width="1.3"/>
<line x1="555.08" y1="205.7" x2="555.08" y2="209.2" stroke="#2a2a2a" stroke-width="1.3"/>
<line x1="563.2" y1="205.7" x2="563.2" y2="209.2" stroke="#2a2a2a" stroke-width="1.3"/>
<line x1="571.33" y1="205.7" x2="571.33" y2="211.2" stroke="#2a2a2a" stroke-width="1.3"/>
<text transform="translate(571.33 223.9) scale(1 1.08)" text-anchor="middle" font-size="10.2" stroke="#1c1c1c" stroke-width="0.3">250</text>
<text transform="translate(472 27.8) scale(1 1.08)" text-anchor="middle" font-size="10.3" stroke="#1c1c1c" stroke-width="0.3">CHG</text>
<text transform="translate(471.7 239) scale(1 1.08)" text-anchor="middle" font-size="10.4" stroke="#1c1c1c" stroke-width="0.3">Channels (FL2-A)</text>
<text transform="translate(335.2 121.3) rotate(-90)" text-anchor="middle" font-size="11" stroke="#1c1c1c" stroke-width="0.3">Number</text>
<path d="M384.41 212 L388.51 206.6 L392.61 212 Z" fill="#111"/>
<path d="M404.72 212 L408.82 206.6 L412.93 212 Z" fill="#111"/>
<path d="M76.21 490.5 L76.21 490.5 L76.64 490.43 L77.06 490.36 L77.49 490.29 L77.91 490.23 L78.34 490.16 L78.77 490.09 L79.19 490.02 L79.62 489.95 L80.04 489.88 L80.47 489.82 L80.89 489.75 L81.32 489.68 L81.74 489.47 L82.17 489.27 L82.59 489.06 L83.02 488.86 L83.45 488.65 L83.87 488.45 L84.3 488.24 L84.72 488.04 L85.15 487.76 L85.57 487.49 L86 487.22 L86.42 486.94 L86.85 486.67 L87.28 486.4 L87.7 486.19 L88.13 485.99 L88.55 485.78 L88.98 485.58 L89.4 486.12 L89.83 486.67 L90.25 487.22 L90.68 487.76 L91.1 488.45 L91.53 489.13 L91.96 489.82 L92.38 490.5 L92.38 490.5 Z" fill="#c3cbf0" stroke="#334" stroke-width="0.6"/>
<path d="M111.95 490.5 L111.95 490.5 L112.38 489.64 L112.81 488.79 L113.23 487.94 L113.66 487.08 L114.08 485.2 L114.51 483.32 L114.93 481.44 L115.36 479.56 L115.78 478.5 L116.21 477.45 L116.63 477.39 L117.06 478.81 L117.49 480.24 L117.91 482.06 L118.34 483.89 L118.76 485.71 L119.19 486.09 L119.61 486.46 L120.04 486.84 L120.46 487.22 L120.89 487.22 L121.31 487.22 L121.74 487.22 L122.17 487.22 L122.59 487.22 L123.02 487.22 L123.44 487.22 L123.87 487.22 L124.29 487.22 L124.72 487.22 L125.14 487.22 L125.57 487.22 L126 487.21 L126.42 487.2 L126.85 487.2 L127.27 487.19 L127.7 487.18 L128.12 487.18 L128.55 487.17 L128.97 487.16 L129.4 487.16 L129.82 487.15 L130.25 487.14 L130.68 487.13 L131.1 487.13 L131.53 487.12 L131.95 487.11 L132.38 487.11 L132.8 487.1 L133.23 487.09 L133.65 487.09 L134.08 487.08 L134.51 487.01 L134.93 486.94 L135.36 486.87 L135.78 486.81 L136.21 486.74 L136.63 486.67 L137.06 486.6 L137.48 486.53 L137.91 486.46 L138.33 486.4 L138.76 486.21 L139.19 486.03 L139.61 485.85 L140.04 485.67 L140.46 485.48 L140.89 485.3 L141.31 485.48 L141.74 485.67 L142.16 485.85 L142.59 486.03 L143.02 486.21 L143.44 486.4 L143.87 486.46 L144.29 486.52 L144.72 486.58 L145.14 486.64 L145.57 486.7 L145.99 486.76 L146.42 486.82 L146.84 486.88 L147.27 486.94 L147.7 487 L148.12 487.06 L148.55 487.13 L148.97 487.19 L149.4 487.25 L149.82 487.31 L150.25 487.37 L150.67 487.43 L151.1 487.49 L151.53 487.5 L151.95 487.52 L152.38 487.53 L152.8 487.55 L153.23 487.56 L153.65 487.57 L154.08 487.59 L154.5 487.6 L154.93 487.61 L155.36 487.63 L155.78 487.64 L156.21 487.65 L156.63 487.67 L157.06 487.68 L157.48 487.7 L157.91 487.71 L158.33 487.72 L158.76 487.74 L159.18 487.75 L159.61 487.76 L160.04 487.78 L160.46 487.79 L160.89 487.81 L161.31 487.82 L161.74 487.83 L162.16 487.85 L162.59 487.86 L163.01 487.87 L163.44 487.89 L163.87 487.9 L164.29 487.91 L164.72 487.93 L165.14 487.94 L165.57 487.96 L165.99 487.97 L166.42 487.98 L166.84 488 L167.27 488.01 L167.69 488.02 L168.12 488.04 L168.55 488.06 L168.97 488.08 L169.4 488.1 L169.82 488.12 L170.25 488.14 L170.67 488.16 L171.1 488.18 L171.52 488.2 L171.95 488.22 L172.38 488.24 L172.8 488.26 L173.23 488.28 L173.65 488.3 L174.08 488.32 L174.5 488.35 L174.93 488.37 L175.35 488.39 L175.78 488.41 L176.2 488.43 L176.63 488.45 L177.06 488.47 L177.48 488.49 L177.91 488.51 L178.33 488.53 L178.76 488.55 L179.18 488.57 L179.61 488.59 L180.03 488.61 L180.46 488.63 L180.88 488.65 L181.31 488.67 L181.74 488.69 L182.16 488.71 L182.59 488.74 L183.01 488.76 L183.44 488.78 L183.86 488.8 L184.29 488.82 L184.71 488.84 L185.14 488.86 L185.57 488.88 L185.99 488.9 L186.42 488.92 L186.84 488.94 L187.27 488.96 L187.69 488.98 L188.12 489 L188.54 489.02 L188.97 489.04 L189.39 489.06 L189.82 489.08 L190.25 489.1 L190.67 489.13 L191.1 489.15 L191.52 489.17 L191.95 489.19 L192.37 489.21 L192.8 489.23 L193.22 489.25 L193.65 489.27 L194.08 489.29 L194.5 489.31 L194.93 489.33 L195.35 489.35 L195.78 489.37 L196.2 489.39 L196.63 489.41 L197.05 489.43 L197.48 489.45 L197.91 489.47 L198.33 489.49 L198.76 489.52 L199.18 489.54 L199.61 489.56 L200.03 489.58 L200.46 489.6 L200.88 489.62 L201.31 489.64 L201.73 489.66 L202.16 489.68 L202.59 489.71 L203.01 489.73 L203.44 489.76 L203.86 489.79 L204.29 489.82 L204.71 489.84 L205.14 489.87 L205.56 489.9 L205.99 489.93 L206.41 489.95 L206.84 489.98 L207.27 490.01 L207.69 490.03 L208.12 490.06 L208.54 490.09 L208.97 490.12 L209.39 490.14 L209.82 490.17 L210.24 490.2 L210.67 490.23 L211.1 490.25 L211.52 490.28 L211.95 490.31 L212.37 490.34 L212.8 490.36 L213.22 490.39 L213.65 490.42 L214.07 490.45 L214.5 490.47 L214.92 490.5 L214.92 490.5 Z" fill="#a6ea98" stroke="#1a2a1a" stroke-width="0.9"/>
<path d="M88.13 490.5 L88.13 490.5 L88.55 489.65 L88.98 488.8 L89.4 487.95 L89.83 487.1 L90.25 486.25 L90.68 485.4 L91.1 484.55 L91.53 483.7 L91.96 482.85 L92.38 482 L92.81 481.15 L93.23 480.3 L93.66 479.45 L94.08 478.6 L94.51 478.6 L94.93 478.6 L95.36 478.6 L95.78 478.6 L96.21 478.6 L96.64 478.6 L97.06 478.6 L97.49 478.6 L97.91 478.6 L98.34 478.6 L98.76 478.6 L99.19 478.6 L99.61 478.6 L100.04 478.6 L100.47 478.6 L100.89 478.6 L101.32 478.6 L101.74 478.6 L102.17 478.6 L102.59 478.6 L103.02 478.6 L103.44 478.6 L103.87 478.6 L104.3 478.6 L104.72 478.6 L105.15 478.6 L105.57 478.6 L106 478.6 L106.42 478.6 L106.85 478.6 L107.27 478.6 L107.7 478.6 L108.12 478.6 L108.55 478.6 L108.98 478.6 L109.4 478.6 L109.83 478.6 L110.25 478.6 L110.68 478.6 L111.1 478.6 L111.53 478.99 L111.95 479.37 L112.38 479.76 L112.81 480.15 L113.23 480.54 L113.66 480.92 L114.08 482.06 L114.51 483.2 L114.93 484.34 L115.36 485.48 L115.78 486.62 L116.21 487.76 L116.63 488.45 L117.06 489.13 L117.49 489.82 L117.91 490.5 L117.91 490.5 Z" fill="url(#hatchB)" stroke="#223" stroke-width="0.7"/>
<path d="M111.95 490.5 L111.95 490.33 L112.38 490.18 L112.81 489.93 L113.23 489.55 L113.66 489.03 L114.08 488.34 L114.51 487.53 L114.93 486.67 L115.36 485.85 L115.78 485.2 L116.21 484.82 L116.63 484.78 L117.06 485.1 L117.49 485.7 L117.91 486.5 L118.34 487.36 L118.76 488.19 L119.19 488.9 L119.61 489.46 L120.04 489.87 L120.46 490.14 L120.89 490.3 L121.31 490.4 L121.31 490.5 Z" fill="#d4ec10" stroke="#1a1a1a" stroke-width="0.9"/>
<path d="M89.66 490.5 L89.66 417.14 L89.74 414.95 L89.83 412.76 L89.91 410.57 L90 408.37 L90.08 406.18 L90.17 403.99 L90.25 398.39 L90.34 386.3 L90.42 374.22 L90.51 370.54 L90.59 366.87 L90.68 363.19 L90.76 359.51 L90.85 355.84 L90.93 352.16 L91.02 348.48 L91.1 344.81 L91.19 348.48 L91.27 352.16 L91.36 355.84 L91.44 359.51 L91.53 363.19 L91.62 366.87 L91.7 370.54 L91.79 374.22 L91.87 383.28 L91.96 392.35 L92.04 401.41 L92.13 406.18 L92.21 408.37 L92.3 410.57 L92.38 412.76 L92.47 414.95 L92.55 417.14 L92.55 490.5 Z" fill="#141414"/>
<path d="M87.62 490.5 L87.62 490.5 L87.83 484.8 L88.04 479.1 L88.25 473.4 L88.47 465.09 L88.68 452.88 L88.89 440.67 L89.1 432.56 L89.32 427.18 L89.53 421.81 L89.74 416.43 L89.96 411.06 L90.17 405.68 L90.38 401.95 L90.59 398.22 L90.81 394.49 L91.02 390.76 L91.23 391.51 L91.44 395.24 L91.66 398.97 L91.87 402.7 L92.08 406.76 L92.3 412.13 L92.51 417.51 L92.72 422.88 L92.93 428.26 L93.15 433.63 L93.36 443.11 L93.57 455.32 L93.79 467.54 L94 474.54 L94.21 480.24 L94.42 485.94 L94.59 490.5 Z" fill="#e3141c" stroke="#111" stroke-width="1.0"/>
<clipPath id="clip3"><path d="M87.62 490.5 L87.62 490.5 L87.83 484.8 L88.04 479.1 L88.25 473.4 L88.47 465.09 L88.68 452.88 L88.89 440.67 L89.1 432.56 L89.32 427.18 L89.53 421.81 L89.74 416.43 L89.96 411.06 L90.17 405.68 L90.38 401.95 L90.59 398.22 L90.81 394.49 L91.02 390.76 L91.23 391.51 L91.44 395.24 L91.66 398.97 L91.87 402.7 L92.08 406.76 L92.3 412.13 L92.51 417.51 L92.72 422.88 L92.93 428.26 L93.15 433.63 L93.36 443.11 L93.57 455.32 L93.79 467.54 L94 474.54 L94.21 480.24 L94.42 485.94 L94.59 490.5 Z"/></clipPath>
<path d="M88.13 490.5 L88.13 490.5 L88.55 489.65 L88.98 488.8 L89.4 487.95 L89.83 487.1 L90.25 486.25 L90.68 485.4 L91.1 484.55 L91.53 483.7 L91.96 482.85 L92.38 482 L92.81 481.15 L93.23 480.3 L93.66 479.45 L94.08 478.6 L94.51 478.6 L94.93 478.6 L95.36 478.6 L95.78 478.6 L96.21 478.6 L96.64 478.6 L97.06 478.6 L97.49 478.6 L97.91 478.6 L98.34 478.6 L98.76 478.6 L99.19 478.6 L99.61 478.6 L100.04 478.6 L100.47 478.6 L100.89 478.6 L101.32 478.6 L101.74 478.6 L102.17 478.6 L102.59 478.6 L103.02 478.6 L103.44 478.6 L103.87 478.6 L104.3 478.6 L104.72 478.6 L105.15 478.6 L105.57 478.6 L106 478.6 L106.42 478.6 L106.85 478.6 L107.27 478.6 L107.7 478.6 L108.12 478.6 L108.55 478.6 L108.98 478.6 L109.4 478.6 L109.83 478.6 L110.25 478.6 L110.68 478.6 L111.1 478.6 L111.53 478.99 L111.95 479.37 L112.38 479.76 L112.81 480.15 L113.23 480.54 L113.66 480.92 L114.08 482.06 L114.51 483.2 L114.93 484.34 L115.36 485.48 L115.78 486.62 L116.21 487.76 L116.63 488.45 L117.06 489.13 L117.49 489.82 L117.91 490.5 L117.91 490.5 Z" fill="url(#hatchR)" stroke="#3a0a0a" stroke-width="1.0" clip-path="url(#clip3)"/>
<path d="M66 490.4 L66.85 490.22 L67.7 490.22 L68.55 490.5 L69.4 489.97 L70.25 489.97 L71.11 490.28 L71.96 490.18 L72.81 490.5 L73.66 490.31 L74.51 489.87 L75.36 489.73 L76.21 489.75 L77.06 490.14 L77.91 489.85 L78.77 489.1 L79.62 489.54 L80.47 489.22 L81.32 489.37 L82.17 488.47 L83.02 487.81 L83.87 487.74 L84.72 487.42 L85.57 486.79 L86.42 486.53 L87.28 484.52 L88.13 476.28 L88.98 434.69 L89.83 412.76 L89.91 410.57 L90.42 374.22 L90.68 363.19 L91.1 344.81 L91.53 363.19 L91.79 374.22 L92.38 412.76 L92.47 414.95 L93.23 434.69 L93.49 449.64 L94.08 475.48 L94.93 475.47 L95.78 476.65 L96.64 476.64 L97.49 476.24 L98.34 476.49 L99.19 476.35 L100.04 476.56 L100.89 476.78 L101.74 476.31 L102.59 476.77 L103.44 476.12 L104.3 476.62 L105.15 476.39 L106 476.43 L106.85 476.68 L107.7 476.62 L108.55 475.88 L109.4 475.89 L110.25 475.89 L111.1 475.23 L111.95 474.1 L112.81 472.88 L113.66 468.57 L114.51 464.94 L115.36 464.01 L116.21 462.82 L116.46 462.49 L117.06 463.92 L117.91 465.61 L118.76 473.17 L119.19 477.16 L119.61 479.1 L120.46 484.46 L121.31 484.41 L122.17 484.8 L123.02 485.35 L123.87 485.71 L124.72 485.6 L125.57 486.29 L126.42 486 L127.27 486.52 L128.12 486.33 L128.97 486.15 L129.82 486 L130.68 486.25 L131.53 485.93 L132.38 486.25 L133.23 485.82 L134.08 485.73 L134.93 485.97 L135.78 486.12 L136.63 485.35 L137.48 485.42 L138.33 485.25 L139.19 485.07 L140.04 484.85 L140.89 484.56 L141.74 484.23 L142.59 485.19 L143.44 485.3 L144.29 485.94 L145.14 485.72 L145.99 485.97 L146.84 486.44 L147.7 486.34 L148.55 486.56 L149.4 486.46 L150.25 486.46 L151.1 486.88 L151.95 487.12 L152.8 486.93 L153.65 487.11 L154.5 486.94 L155.36 486.78 L156.21 486.88 L157.06 486.89 L157.91 486.74 L158.76 486.78 L159.61 487.19 L160.46 487.04 L161.31 486.79 L162.16 487.11 L163.01 486.92 L163.87 487.61 L164.72 487.23 L165.57 487.26 L166.42 487.51 L167.27 487.67 L168.12 487.1 L168.97 487.16 L169.82 487.51 L170.67 487.24 L171.52 487.75 L172.38 487.33 L173.23 487.95 L174.08 488.14 L174.93 487.92 L175.78 487.69 L176.63 488.37 L177.48 488.2 L178.33 487.83 L179.18 488.3 L180.03 487.76 L180.88 488.12 L181.74 488.14 L182.59 488.1 L183.44 488.14 L184.29 488.37 L185.14 488.61 L185.99 488.51 L186.84 488.32 L187.69 488.93 L188.54 488.62 L189.39 488.3 L190.25 489.05 L191.1 488.75 L191.95 488.55 L192.8 488.77 L193.65 488.88 L194.5 488.54 L195.35 489.03 L196.2 489.25 L197.05 488.77 L197.91 489.14 L198.76 488.66 L199.61 489.05 L200.46 489.07 L201.31 489.38 L202.16 488.88 L203.01 489.37 L203.86 488.92 L204.71 489.56 L205.56 488.79 L206.41 489.04 L207.27 488.93 L208.12 489.11 L208.97 489.07 L209.82 489.43 L210.67 489.56 L211.52 489.35 L212.37 489.2 L213.22 489.63 L214.07 489.67 L214.92 489.28 L215.78 489.04 L216.63 489.42 L217.48 489.3 L218.33 489.03 L219.18 489.77 L220.03 489.71 L220.88 489.43 L221.73 489.4 L222.58 489.65 L223.44 489.68 L224.29 489.47 L225.14 489.72 L225.99 489.32 L226.84 489.35 L227.69 489.88 L228.54 489.89 L229.39 489.49 L230.24 489.27 L231.09 489.74 L231.94 490 L232.8 489.99 L233.65 489.27 L234.5 489.88 L235.35 489.28 L236.2 489.42 L237.05 489.58 L237.9 489.91 L238.75 489.6 L239.6 489.79 L240.45 489.43 L241.31 489.46 L242.16 489.43 L243.01 489.65 L243.86 489.53 L244.71 490.06 L245.56 489.98 L246.41 489.42 L247.26 489.53 L248.11 489.78 L248.97 489.66 L249.82 489.79 L250.67 490.05 L251.52 489.88 L252.37 489.47 L253.22 489.99 L254.07 490.07 L254.92 490.01 L255.77 490.18 L256.62 489.91 L257.48 489.66 L258.33 489.84 L259.18 490.13 L260.03 490 L260.88 489.64 L261.73 490.08 L262.58 490.06 L263.43 489.93 L264.28 489.96 L265.13 489.88 L265.99 489.67 L266.84 490.14 L267.69 489.73 L268.54 489.76 L269.39 489.49 L270.24 490.25 L271.09 489.97 L271.94 489.86 L272.79 489.89 L273.64 490.24 L274.5 489.59 L275.35 489.56 L276.2 490.14 L277.05 490.02 L277.9 490.14 L278.75 490.1 L279.6 490.33 L280.45 490.22 L281.3 490.03" fill="none" stroke="#111" stroke-width="1.15" stroke-linejoin="round"/>
<line x1="66" y1="326.7" x2="66" y2="491.1" stroke="#2a2a2a" stroke-width="1.4"/>
<line x1="65.4" y1="490.5" x2="282" y2="490.5" stroke="#2a2a2a" stroke-width="1.4"/>
<line x1="59.3" y1="490.5" x2="66" y2="490.5" stroke="#2a2a2a" stroke-width="1.3"/>
<text transform="translate(55.8 494) scale(1 1.08)" text-anchor="end" font-size="10.2" stroke="#1c1c1c" stroke-width="0.3">0</text>
<line x1="62.3" y1="485.03" x2="66" y2="485.03" stroke="#2a2a2a" stroke-width="1.3"/>
<line x1="62.3" y1="479.56" x2="66" y2="479.56" stroke="#2a2a2a" stroke-width="1.3"/>
<line x1="62.3" y1="474.08" x2="66" y2="474.08" stroke="#2a2a2a" stroke-width="1.3"/>
<line x1="62.3" y1="468.61" x2="66" y2="468.61" stroke="#2a2a2a" stroke-width="1.3"/>
<line x1="59.3" y1="463.14" x2="66" y2="463.14" stroke="#2a2a2a" stroke-width="1.3"/>
<text transform="translate(55.8 466.64) scale(1 1.08)" text-anchor="end" font-size="10.2" stroke="#1c1c1c" stroke-width="0.3">200</text>
<line x1="62.3" y1="457.67" x2="66" y2="457.67" stroke="#2a2a2a" stroke-width="1.3"/>
<line x1="62.3" y1="452.2" x2="66" y2="452.2" stroke="#2a2a2a" stroke-width="1.3"/>
<line x1="62.3" y1="446.72" x2="66" y2="446.72" stroke="#2a2a2a" stroke-width="1.3"/>
<line x1="62.3" y1="441.25" x2="66" y2="441.25" stroke="#2a2a2a" stroke-width="1.3"/>
<line x1="59.3" y1="435.78" x2="66" y2="435.78" stroke="#2a2a2a" stroke-width="1.3"/>
<text transform="translate(55.8 439.28) scale(1 1.08)" text-anchor="end" font-size="10.2" stroke="#1c1c1c" stroke-width="0.3">400</text>
<line x1="62.3" y1="430.31" x2="66" y2="430.31" stroke="#2a2a2a" stroke-width="1.3"/>
<line x1="62.3" y1="424.84" x2="66" y2="424.84" stroke="#2a2a2a" stroke-width="1.3"/>
<line x1="62.3" y1="419.36" x2="66" y2="419.36" stroke="#2a2a2a" stroke-width="1.3"/>
<line x1="62.3" y1="413.89" x2="66" y2="413.89" stroke="#2a2a2a" stroke-width="1.3"/>
<line x1="59.3" y1="408.42" x2="66" y2="408.42" stroke="#2a2a2a" stroke-width="1.3"/>
<text transform="translate(55.8 411.92) scale(1 1.08)" text-anchor="end" font-size="10.2" stroke="#1c1c1c" stroke-width="0.3">600</text>
<line x1="62.3" y1="402.95" x2="66" y2="402.95" stroke="#2a2a2a" stroke-width="1.3"/>
<line x1="62.3" y1="397.48" x2="66" y2="397.48" stroke="#2a2a2a" stroke-width="1.3"/>
<line x1="62.3" y1="392" x2="66" y2="392" stroke="#2a2a2a" stroke-width="1.3"/>
<line x1="62.3" y1="386.53" x2="66" y2="386.53" stroke="#2a2a2a" stroke-width="1.3"/>
<line x1="59.3" y1="381.06" x2="66" y2="381.06" stroke="#2a2a2a" stroke-width="1.3"/>
<text transform="translate(55.8 384.56) scale(1 1.08)" text-anchor="end" font-size="10.2" stroke="#1c1c1c" stroke-width="0.3">800</text>
<line x1="62.3" y1="375.59" x2="66" y2="375.59" stroke="#2a2a2a" stroke-width="1.3"/>
<line x1="62.3" y1="370.12" x2="66" y2="370.12" stroke="#2a2a2a" stroke-width="1.3"/>
<line x1="62.3" y1="364.64" x2="66" y2="364.64" stroke="#2a2a2a" stroke-width="1.3"/>
<line x1="62.3" y1="359.17" x2="66" y2="359.17" stroke="#2a2a2a" stroke-width="1.3"/>
<line x1="59.3" y1="353.7" x2="66" y2="353.7" stroke="#2a2a2a" stroke-width="1.3"/>
<text transform="translate(55.8 357.2) scale(1 1.08)" text-anchor="end" font-size="10.2" stroke="#1c1c1c" stroke-width="0.3">1000</text>
<line x1="62.3" y1="348.23" x2="66" y2="348.23" stroke="#2a2a2a" stroke-width="1.3"/>
<line x1="62.3" y1="342.76" x2="66" y2="342.76" stroke="#2a2a2a" stroke-width="1.3"/>
<line x1="62.3" y1="337.28" x2="66" y2="337.28" stroke="#2a2a2a" stroke-width="1.3"/>
<line x1="62.3" y1="331.81" x2="66" y2="331.81" stroke="#2a2a2a" stroke-width="1.3"/>
<line x1="66" y1="490.5" x2="66" y2="496" stroke="#2a2a2a" stroke-width="1.3"/>
<text transform="translate(66 508.7) scale(1 1.08)" text-anchor="middle" font-size="10.2" stroke="#1c1c1c" stroke-width="0.3">0</text>
<line x1="74.51" y1="490.5" x2="74.51" y2="494" stroke="#2a2a2a" stroke-width="1.3"/>
<line x1="83.02" y1="490.5" x2="83.02" y2="494" stroke="#2a2a2a" stroke-width="1.3"/>
<line x1="91.53" y1="490.5" x2="91.53" y2="494" stroke="#2a2a2a" stroke-width="1.3"/>
<line x1="100.04" y1="490.5" x2="100.04" y2="494" stroke="#2a2a2a" stroke-width="1.3"/>
<line x1="108.55" y1="490.5" x2="108.55" y2="496" stroke="#2a2a2a" stroke-width="1.3"/>
<text transform="translate(108.55 508.7) scale(1 1.08)" text-anchor="middle" font-size="10.2" stroke="#1c1c1c" stroke-width="0.3">50</text>
<line x1="117.06" y1="490.5" x2="117.06" y2="494" stroke="#2a2a2a" stroke-width="1.3"/>
<line x1="125.57" y1="490.5" x2="125.57" y2="494" stroke="#2a2a2a" stroke-width="1.3"/>
<line x1="134.08" y1="490.5" x2="134.08" y2="494" stroke="#2a2a2a" stroke-width="1.3"/>
<line x1="142.59" y1="490.5" x2="142.59" y2="494" stroke="#2a2a2a" stroke-width="1.3"/>
<line x1="151.1" y1="490.5" x2="151.1" y2="496" stroke="#2a2a2a" stroke-width="1.3"/>
<text transform="translate(151.1 508.7) scale(1 1.08)" text-anchor="middle" font-size="10.2" stroke="#1c1c1c" stroke-width="0.3">100</text>
<line x1="159.61" y1="490.5" x2="159.61" y2="494" stroke="#2a2a2a" stroke-width="1.3"/>
<line x1="168.12" y1="490.5" x2="168.12" y2="494" stroke="#2a2a2a" stroke-width="1.3"/>
<line x1="176.63" y1="490.5" x2="176.63" y2="494" stroke="#2a2a2a" stroke-width="1.3"/>
<line x1="185.14" y1="490.5" x2="185.14" y2="494" stroke="#2a2a2a" stroke-width="1.3"/>
<line x1="193.65" y1="490.5" x2="193.65" y2="496" stroke="#2a2a2a" stroke-width="1.3"/>
<text transform="translate(193.65 508.7) scale(1 1.08)" text-anchor="middle" font-size="10.2" stroke="#1c1c1c" stroke-width="0.3">150</text>
<line x1="202.16" y1="490.5" x2="202.16" y2="494" stroke="#2a2a2a" stroke-width="1.3"/>
<line x1="210.67" y1="490.5" x2="210.67" y2="494" stroke="#2a2a2a" stroke-width="1.3"/>
<line x1="219.18" y1="490.5" x2="219.18" y2="494" stroke="#2a2a2a" stroke-width="1.3"/>
<line x1="227.69" y1="490.5" x2="227.69" y2="494" stroke="#2a2a2a" stroke-width="1.3"/>
<line x1="236.2" y1="490.5" x2="236.2" y2="496" stroke="#2a2a2a" stroke-width="1.3"/>
<text transform="translate(236.2 508.7) scale(1 1.08)" text-anchor="middle" font-size="10.2" stroke="#1c1c1c" stroke-width="0.3">200</text>
<line x1="244.71" y1="490.5" x2="244.71" y2="494" stroke="#2a2a2a" stroke-width="1.3"/>
<line x1="253.22" y1="490.5" x2="253.22" y2="494" stroke="#2a2a2a" stroke-width="1.3"/>
<line x1="261.73" y1="490.5" x2="261.73" y2="494" stroke="#2a2a2a" stroke-width="1.3"/>
<line x1="270.24" y1="490.5" x2="270.24" y2="494" stroke="#2a2a2a" stroke-width="1.3"/>
<line x1="278.75" y1="490.5" x2="278.75" y2="496" stroke="#2a2a2a" stroke-width="1.3"/>
<text transform="translate(278.75 508.7) scale(1 1.08)" text-anchor="middle" font-size="10.2" stroke="#1c1c1c" stroke-width="0.3">250</text>
<text transform="translate(175 321.7) scale(1 1.08)" text-anchor="middle" font-size="10.3" stroke="#1c1c1c" stroke-width="0.3">IHG</text>
<text transform="translate(174.3 523.8) scale(1 1.08)" text-anchor="middle" font-size="10.4" stroke="#1c1c1c" stroke-width="0.3">Channels (FL2-A)</text>
<text transform="translate(28.4 410.1) rotate(-90)" text-anchor="middle" font-size="11" stroke="#1c1c1c" stroke-width="0.3">Number</text>
<path d="M87 496.8 L91.1 491.4 L95.2 496.8 Z" fill="#111"/>
<path d="M112.11 496.8 L116.21 491.4 L120.31 496.8 Z" fill="#111"/>
<path d="M135.94 496.8 L140.04 491.4 L144.14 496.8 Z" fill="#111"/>
<rect x="61.9" y="250.7" width="11.5" height="6" fill="#c3cbf0" stroke="#222" stroke-width="1.1"/>
<text transform="translate(80.6 257.1) scale(1 1.08)" font-size="10.2" stroke="#1c1c1c" stroke-width="0.3">Debris</text>
<rect x="61.9" y="263.7" width="11.5" height="6" fill="#b4eeac" stroke="#222" stroke-width="1.1"/>
<text transform="translate(80.6 270.1) scale(1 1.08)" font-size="10.2" stroke="#1c1c1c" stroke-width="0.3">Aggregates</text>
<rect x="61.9" y="276.7" width="11.5" height="6" fill="#e3141c" stroke="#222" stroke-width="1.1"/>
<text transform="translate(80.6 283.1) scale(1 1.08)" font-size="10.2" stroke="#1c1c1c" stroke-width="0.3">Dip G1</text>
<rect x="61.9" y="289.7" width="11.5" height="6" fill="#e3141c" stroke="#222" stroke-width="1.1"/>
<text transform="translate(80.6 296.1) scale(1 1.08)" font-size="10.2" stroke="#1c1c1c" stroke-width="0.3">Dip G2</text>
<rect x="193.3" y="250.7" width="11.5" height="6" fill="#fbfbff"/>
<line x1="194.3" y1="251.1" x2="203.8" y2="256.3" stroke="#2f3fb0" stroke-width="1.2"/>
<rect x="193.3" y="250.7" width="11.5" height="6" fill="none" stroke="#222" stroke-width="1.1"/>
<text transform="translate(212 257.1) scale(1 1.08)" font-size="10.2" stroke="#1c1c1c" stroke-width="0.3">Dip S</text>
<rect x="193.3" y="263.7" width="11.5" height="6" fill="#dbee16" stroke="#222" stroke-width="1.1"/>
<text transform="translate(212 270.1) scale(1 1.08)" font-size="10.2" stroke="#1c1c1c" stroke-width="0.3">An1 G1</text>
<rect x="193.3" y="276.7" width="11.5" height="6" fill="#dbee16" stroke="#222" stroke-width="1.1"/>
<text transform="translate(212 283.1) scale(1 1.08)" font-size="10.2" stroke="#1c1c1c" stroke-width="0.3">An1 G2</text>
<rect x="193.3" y="289.7" width="11.5" height="6" fill="#fbfbff"/>
<line x1="194.3" y1="295.3" x2="203.8" y2="290.1" stroke="#2f3fb0" stroke-width="1.2"/>
<rect x="193.3" y="289.7" width="11.5" height="6" fill="none" stroke="#222" stroke-width="1.1"/>
<text transform="translate(212 296.1) scale(1 1.08)" font-size="10.2" stroke="#1c1c1c" stroke-width="0.3">An1 S</text>
<rect x="367.5" y="250.5" width="11.5" height="6" fill="#c3cbf0" stroke="#222" stroke-width="1.1"/>
<text transform="translate(386.2 256.9) scale(1 1.08)" font-size="10.2" stroke="#1c1c1c" stroke-width="0.3">Debris</text>
<rect x="367.5" y="263.5" width="11.5" height="6" fill="#b4eeac" stroke="#222" stroke-width="1.1"/>
<text transform="translate(386.2 269.9) scale(1 1.08)" font-size="10.2" stroke="#1c1c1c" stroke-width="0.3">Aggregates</text>
<rect x="367.5" y="276.5" width="11.5" height="6" fill="#e3141c" stroke="#222" stroke-width="1.1"/>
<text transform="translate(386.2 282.9) scale(1 1.08)" font-size="10.2" stroke="#1c1c1c" stroke-width="0.3">Dip G1</text>
<rect x="367.5" y="289.5" width="11.5" height="6" fill="#e3141c" stroke="#222" stroke-width="1.1"/>
<text transform="translate(386.2 295.9) scale(1 1.08)" font-size="10.2" stroke="#1c1c1c" stroke-width="0.3">Dip G2</text>
<rect x="475.5" y="250.5" width="11.5" height="6" fill="#fbfbff"/>
<line x1="476.5" y1="250.9" x2="486" y2="256.1" stroke="#2f3fb0" stroke-width="1.2"/>
<rect x="475.5" y="250.5" width="11.5" height="6" fill="none" stroke="#222" stroke-width="1.1"/>
<text transform="translate(494.2 256.9) scale(1 1.08)" font-size="10.2" stroke="#1c1c1c" stroke-width="0.3">Dip S</text>
<rect x="475.5" y="263.5" width="11.5" height="6" fill="#dbee16" stroke="#222" stroke-width="1.1"/>
<text transform="translate(494.2 269.9) scale(1 1.08)" font-size="10.2" stroke="#1c1c1c" stroke-width="0.3">An1 G1</text>
<rect x="475.5" y="276.5" width="11.5" height="6" fill="#dbee16" stroke="#222" stroke-width="1.1"/>
<text transform="translate(494.2 282.9) scale(1 1.08)" font-size="10.2" stroke="#1c1c1c" stroke-width="0.3">An1 G2</text>
<rect x="475.5" y="289.5" width="11.5" height="6" fill="#fbfbff"/>
<line x1="476.5" y1="295.1" x2="486" y2="289.9" stroke="#2f3fb0" stroke-width="1.2"/>
<rect x="475.5" y="289.5" width="11.5" height="6" fill="none" stroke="#222" stroke-width="1.1"/>
<text transform="translate(494.2 295.9) scale(1 1.08)" font-size="10.2" stroke="#1c1c1c" stroke-width="0.3">An1 S</text>
<rect x="66.4" y="535.5" width="11.5" height="6" fill="#c3cbf0" stroke="#222" stroke-width="1.1"/>
<text transform="translate(85.1 541.9) scale(1 1.08)" font-size="10.2" stroke="#1c1c1c" stroke-width="0.3">Debris</text>
<rect x="66.4" y="548.5" width="11.5" height="6" fill="#b4eeac" stroke="#222" stroke-width="1.1"/>
<text transform="translate(85.1 554.9) scale(1 1.08)" font-size="10.2" stroke="#1c1c1c" stroke-width="0.3">Aggregates</text>
<rect x="66.4" y="561.5" width="11.5" height="6" fill="#e3141c" stroke="#222" stroke-width="1.1"/>
<text transform="translate(85.1 567.9) scale(1 1.08)" font-size="10.2" stroke="#1c1c1c" stroke-width="0.3">Dip G1</text>
<rect x="66.4" y="574.5" width="11.5" height="6" fill="#e3141c" stroke="#222" stroke-width="1.1"/>
<text transform="translate(85.1 580.9) scale(1 1.08)" font-size="10.2" stroke="#1c1c1c" stroke-width="0.3">Dip G2</text>
<rect x="176.5" y="535.5" width="11.5" height="6" fill="#fbfbff"/>
<line x1="177.5" y1="535.9" x2="187" y2="541.1" stroke="#2f3fb0" stroke-width="1.2"/>
<rect x="176.5" y="535.5" width="11.5" height="6" fill="none" stroke="#222" stroke-width="1.1"/>
<text transform="translate(195.2 541.9) scale(1 1.08)" font-size="10.2" stroke="#1c1c1c" stroke-width="0.3">Dip S</text>
<rect x="176.5" y="548.5" width="11.5" height="6" fill="#dbee16" stroke="#222" stroke-width="1.1"/>
<text transform="translate(195.2 554.9) scale(1 1.08)" font-size="10.2" stroke="#1c1c1c" stroke-width="0.3">An1 G1</text>
<rect x="176.5" y="561.5" width="11.5" height="6" fill="#dbee16" stroke="#222" stroke-width="1.1"/>
<text transform="translate(195.2 567.9) scale(1 1.08)" font-size="10.2" stroke="#1c1c1c" stroke-width="0.3">An1 G2</text>
<rect x="176.5" y="574.5" width="11.5" height="6" fill="#fbfbff"/>
<line x1="177.5" y1="580.1" x2="187" y2="574.9" stroke="#2f3fb0" stroke-width="1.2"/>
<rect x="176.5" y="574.5" width="11.5" height="6" fill="none" stroke="#222" stroke-width="1.1"/>
<text transform="translate(195.2 580.9) scale(1 1.08)" font-size="10.2" stroke="#1c1c1c" stroke-width="0.3">An1 S</text>
<path d="M207 343 L238 343 L238 362 L217 362 L217 376 L207 376 Z" fill="#fffbf5"/>
<line x1="328.8" y1="326.6" x2="328.8" y2="493.2" stroke="#2a2a2a" stroke-width="1.3"/>
<line x1="328.8" y1="493.2" x2="580" y2="493.2" stroke="#2a2a2a" stroke-width="1.3"/>
<line x1="325.8" y1="493.2" x2="328.8" y2="493.2" stroke="#2a2a2a" stroke-width="1.2"/>
<text transform="translate(321.3 496.7) scale(1 1.08)" text-anchor="end" font-size="10.3" stroke="#1c1c1c" stroke-width="0.3">0</text>
<line x1="325.8" y1="451.54" x2="328.8" y2="451.54" stroke="#2a2a2a" stroke-width="1.2"/>
<text transform="translate(321.3 455.04) scale(1 1.08)" text-anchor="end" font-size="10.3" stroke="#1c1c1c" stroke-width="0.3">20</text>
<line x1="325.8" y1="409.88" x2="328.8" y2="409.88" stroke="#2a2a2a" stroke-width="1.2"/>
<text transform="translate(321.3 413.38) scale(1 1.08)" text-anchor="end" font-size="10.3" stroke="#1c1c1c" stroke-width="0.3">40</text>
<line x1="325.8" y1="368.22" x2="328.8" y2="368.22" stroke="#2a2a2a" stroke-width="1.2"/>
<text transform="translate(321.3 371.72) scale(1 1.08)" text-anchor="end" font-size="10.3" stroke="#1c1c1c" stroke-width="0.3">60</text>
<line x1="325.8" y1="326.56" x2="328.8" y2="326.56" stroke="#2a2a2a" stroke-width="1.2"/>
<text transform="translate(321.3 330.06) scale(1 1.08)" text-anchor="end" font-size="10.3" stroke="#1c1c1c" stroke-width="0.3">80</text>
<text transform="translate(305.3 409.3) rotate(-90) scale(1 1.08)" text-anchor="middle" font-size="10.3" stroke="#1c1c1c" stroke-width="0.3">Cell cycle distribution</text>
<rect x="339.2" y="391.97" width="20.85" height="101.23" fill="#ffffff" stroke="#222" stroke-width="1.1"/>
<line x1="349.62" y1="391.97" x2="349.62" y2="387.38" stroke="#222" stroke-width="1.1"/>
<line x1="347.02" y1="387.38" x2="352.23" y2="387.38" stroke="#222" stroke-width="1.3"/>
<rect x="360.05" y="405.51" width="20.85" height="87.69" fill="url(#barS)" stroke="#222" stroke-width="1.1"/>
<line x1="370.48" y1="405.51" x2="370.48" y2="400.3" stroke="#222" stroke-width="1.1"/>
<line x1="367.88" y1="400.3" x2="373.08" y2="400.3" stroke="#222" stroke-width="1.3"/>
<rect x="380.9" y="475.08" width="20.85" height="18.12" fill="url(#barG2)" stroke="#222" stroke-width="1.1"/>
<line x1="391.32" y1="475.08" x2="391.32" y2="473.2" stroke="#222" stroke-width="1.1"/>
<line x1="388.72" y1="473.2" x2="393.93" y2="473.2" stroke="#222" stroke-width="1.3"/>
<line x1="370.47" y1="493.2" x2="370.47" y2="497.2" stroke="#2a2a2a" stroke-width="1.1"/>
<text transform="translate(370.47 508.2) scale(1 1.08)" text-anchor="middle" font-size="10.3" stroke="#1c1c1c" stroke-width="0.3">CTRL</text>
<rect x="422.5" y="376.55" width="20.85" height="116.65" fill="#ffffff" stroke="#222" stroke-width="1.1"/>
<line x1="432.93" y1="376.55" x2="432.93" y2="371.14" stroke="#222" stroke-width="1.1"/>
<line x1="430.32" y1="371.14" x2="435.53" y2="371.14" stroke="#222" stroke-width="1.3"/>
<line x1="432.93" y1="363.34" x2="432.93" y2="367.54" stroke="#111" stroke-width="1.1"/>
<line x1="431.11" y1="364.39" x2="434.74" y2="366.49" stroke="#111" stroke-width="1.1"/>
<line x1="434.74" y1="364.39" x2="431.11" y2="366.49" stroke="#111" stroke-width="1.1"/>
<rect x="443.35" y="415.92" width="20.85" height="77.28" fill="url(#barS)" stroke="#222" stroke-width="1.1"/>
<line x1="453.78" y1="415.92" x2="453.78" y2="411.13" stroke="#222" stroke-width="1.1"/>
<line x1="451.18" y1="411.13" x2="456.38" y2="411.13" stroke="#222" stroke-width="1.3"/>
<line x1="453.78" y1="403.33" x2="453.78" y2="407.53" stroke="#111" stroke-width="1.1"/>
<line x1="451.96" y1="404.38" x2="455.59" y2="406.48" stroke="#111" stroke-width="1.1"/>
<line x1="455.59" y1="404.38" x2="451.96" y2="406.48" stroke="#111" stroke-width="1.1"/>
<rect x="464.2" y="484.45" width="20.85" height="8.75" fill="url(#barG2)" stroke="#222" stroke-width="1.1"/>
<line x1="474.62" y1="484.45" x2="474.62" y2="483.41" stroke="#222" stroke-width="1.1"/>
<line x1="472.02" y1="483.41" x2="477.23" y2="483.41" stroke="#222" stroke-width="1.3"/>
<line x1="474.62" y1="475.61" x2="474.62" y2="479.81" stroke="#111" stroke-width="1.1"/>
<line x1="472.81" y1="476.66" x2="476.44" y2="478.76" stroke="#111" stroke-width="1.1"/>
<line x1="476.44" y1="476.66" x2="472.81" y2="478.76" stroke="#111" stroke-width="1.1"/>
<line x1="453.77" y1="493.2" x2="453.77" y2="497.2" stroke="#2a2a2a" stroke-width="1.1"/>
<text transform="translate(453.77 508.2) scale(1 1.08)" text-anchor="middle" font-size="10.3" stroke="#1c1c1c" stroke-width="0.3">CHG</text>
<rect x="506.2" y="356.14" width="20.85" height="137.06" fill="#ffffff" stroke="#222" stroke-width="1.1"/>
<line x1="516.62" y1="356.14" x2="516.62" y2="350.93" stroke="#222" stroke-width="1.1"/>
<line x1="514.02" y1="350.93" x2="519.23" y2="350.93" stroke="#222" stroke-width="1.3"/>
<circle cx="512.83" cy="344.73" r="1.7" fill="#151515"/>
<path d="M517.62 346.83 L519.92 341.23 L522.33 346.83 Z" fill="none" stroke="#111" stroke-width="1.15" stroke-linejoin="miter"/>
<rect x="527.05" y="428.21" width="20.85" height="64.99" fill="url(#barS)" stroke="#222" stroke-width="1.1"/>
<line x1="537.47" y1="428.21" x2="537.47" y2="424.04" stroke="#222" stroke-width="1.1"/>
<line x1="534.87" y1="424.04" x2="540.07" y2="424.04" stroke="#222" stroke-width="1.3"/>
<circle cx="533.67" cy="417.84" r="1.7" fill="#151515"/>
<path d="M538.47 419.94 L540.77 414.34 L543.17 419.94 Z" fill="none" stroke="#111" stroke-width="1.15" stroke-linejoin="miter"/>
<rect x="547.9" y="487.16" width="20.85" height="6.04" fill="url(#barG2)" stroke="#222" stroke-width="1.1"/>
<line x1="558.32" y1="487.16" x2="558.32" y2="486.12" stroke="#222" stroke-width="1.1"/>
<line x1="555.72" y1="486.12" x2="560.92" y2="486.12" stroke="#222" stroke-width="1.3"/>
<circle cx="554.52" cy="479.92" r="1.7" fill="#151515"/>
<path d="M559.32 482.02 L561.62 476.42 L564.02 482.02 Z" fill="none" stroke="#111" stroke-width="1.15" stroke-linejoin="miter"/>
<line x1="537.48" y1="493.2" x2="537.48" y2="497.2" stroke="#2a2a2a" stroke-width="1.1"/>
<text transform="translate(537.48 508.2) scale(1 1.08)" text-anchor="middle" font-size="10.3" stroke="#1c1c1c" stroke-width="0.3">IHG</text>
<rect x="328.8" y="524.5" width="8" height="8" fill="#ffffff" stroke="#333" stroke-width="1.1"/>
<text transform="translate(343 531.8) scale(1 1.08)" font-size="10.3" stroke="#1c1c1c" stroke-width="0.3">G0/G1</text>
<rect x="328.8" y="537.5" width="8" height="8" fill="url(#barSd)" stroke="#333" stroke-width="1.1"/>
<text transform="translate(343 544.8) scale(1 1.08)" font-size="10.3" stroke="#1c1c1c" stroke-width="0.3">S</text>
<rect x="328.8" y="550.5" width="8" height="8" fill="url(#barG2)" stroke="#333" stroke-width="1.1"/>
<text transform="translate(343 557.8) scale(1 1.08)" font-size="10.3" stroke="#1c1c1c" stroke-width="0.3">G2/M</text>
</svg>
</body></html>
